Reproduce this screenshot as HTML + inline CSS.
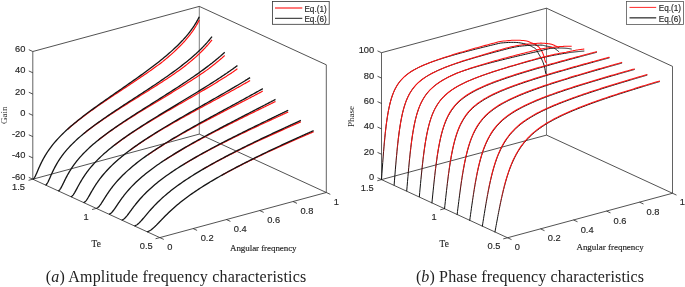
<!DOCTYPE html>
<html><head><meta charset="utf-8"><style>html,body{margin:0;padding:0;background:#fff;width:685px;height:287px;overflow:hidden}svg{display:block}</style></head><body>
<svg width="685" height="287" viewBox="0 0 685 287">
<line x1="199.30" y1="134.10" x2="199.30" y2="6.40" stroke="#707070" stroke-width="0.9"/>
<line x1="326.30" y1="192.50" x2="326.30" y2="64.80" stroke="#505050" stroke-width="0.9"/>
<line x1="32.80" y1="179.20" x2="32.80" y2="51.50" stroke="#505050" stroke-width="0.9"/>
<line x1="32.80" y1="51.50" x2="199.30" y2="6.40" stroke="#262626" stroke-width="0.8"/>
<line x1="199.30" y1="6.40" x2="326.30" y2="64.80" stroke="#262626" stroke-width="0.8"/>
<line x1="32.80" y1="179.20" x2="199.30" y2="134.10" stroke="#262626" stroke-width="0.8"/>
<line x1="199.30" y1="134.10" x2="326.30" y2="192.50" stroke="#262626" stroke-width="0.8"/>
<line x1="32.80" y1="179.20" x2="159.80" y2="237.60" stroke="#262626" stroke-width="0.8"/>
<line x1="159.80" y1="237.60" x2="326.30" y2="192.50" stroke="#262626" stroke-width="0.8"/>
<line x1="32.80" y1="179.20" x2="28.80" y2="177.36" stroke="#262626" stroke-width="0.8"/>
<line x1="32.80" y1="157.92" x2="28.80" y2="156.08" stroke="#262626" stroke-width="0.8"/>
<line x1="32.80" y1="136.63" x2="28.80" y2="134.79" stroke="#262626" stroke-width="0.8"/>
<line x1="32.80" y1="115.35" x2="28.80" y2="113.51" stroke="#262626" stroke-width="0.8"/>
<line x1="32.80" y1="94.06" x2="28.80" y2="92.23" stroke="#262626" stroke-width="0.8"/>
<line x1="32.80" y1="72.78" x2="28.80" y2="70.94" stroke="#262626" stroke-width="0.8"/>
<line x1="32.80" y1="51.50" x2="28.80" y2="49.66" stroke="#262626" stroke-width="0.8"/>
<line x1="159.80" y1="237.60" x2="155.55" y2="238.75" stroke="#262626" stroke-width="0.8"/>
<line x1="96.30" y1="208.40" x2="92.05" y2="209.55" stroke="#262626" stroke-width="0.8"/>
<line x1="32.80" y1="179.20" x2="28.55" y2="180.35" stroke="#262626" stroke-width="0.8"/>
<line x1="159.80" y1="237.60" x2="163.80" y2="239.44" stroke="#262626" stroke-width="0.8"/>
<line x1="193.10" y1="228.58" x2="197.10" y2="230.42" stroke="#262626" stroke-width="0.8"/>
<line x1="226.40" y1="219.56" x2="230.40" y2="221.40" stroke="#262626" stroke-width="0.8"/>
<line x1="259.70" y1="210.54" x2="263.70" y2="212.38" stroke="#262626" stroke-width="0.8"/>
<line x1="293.00" y1="201.52" x2="297.00" y2="203.36" stroke="#262626" stroke-width="0.8"/>
<line x1="326.30" y1="192.50" x2="330.30" y2="194.34" stroke="#262626" stroke-width="0.8"/>
<path d="M67.77 129.22 L69.43 127.75 L71.09 126.31 L72.76 124.90 L74.42 123.52 L76.09 122.17 L77.75 120.83 L79.42 119.52 L81.09 118.23 L82.75 116.96 L84.41 115.71 L86.08 114.47 L87.75 113.24 L89.41 112.03 L91.07 110.83 L92.74 109.64 L94.41 108.46 L96.07 107.29 L97.73 106.13 L99.40 104.98 L101.06 103.83 L102.73 102.69 L104.40 101.56 L106.06 100.43 L107.73 99.31 L109.39 98.19 L111.05 97.08 L112.72 95.97 L114.38 94.86 L116.05 93.75 L117.72 92.65 L119.38 91.54 L121.05 90.44 L122.71 89.34 L124.38 88.24 L126.04 87.14 L127.71 86.03 L129.37 84.93 L131.03 83.82 L132.70 82.71 L134.37 81.60 L136.03 80.49 L137.69 79.37 L139.36 78.24 L141.03 77.11 L142.69 75.98 L144.36 74.84 L146.02 73.69 L147.69 72.53 L149.35 71.37 L151.01 70.20 L152.68 69.01 L154.34 67.82 L156.01 66.61 L157.68 65.39 L159.34 64.16 L161.00 62.91 L162.67 61.62 L164.33 60.26 L166.00 58.88 L167.66 57.47 L169.33 56.05 L171.00 54.59 L172.66 53.10 L174.32 51.58 L175.99 50.02 L177.65 48.43 L179.32 46.79 L180.99 45.09 L182.65 43.34 L183.07 42.90 L183.48 42.45 L183.90 41.99 L184.31 41.53 L184.73 41.07 L185.15 40.60 L185.56 40.12 L185.98 39.65 L186.40 39.16 L186.81 38.67 L187.23 38.18 L187.64 37.68 L188.06 37.17 L188.48 36.66 L188.89 36.14 L189.31 35.62 L189.73 35.08 L190.14 34.54 L190.56 34.00 L190.97 33.44 L191.39 32.88 L191.81 32.31 L192.22 31.73 L192.64 31.14 L193.06 30.54 L193.47 29.92 L193.89 29.30 L194.31 28.67 L194.72 28.03 L195.14 27.37 L195.55 26.70 L195.97 26.01 L196.39 25.32 L196.80 24.60 L197.22 23.87 L197.63 23.12 L198.05 22.35 L198.47 21.56 L198.88 20.75 L199.30 19.91" fill="none" stroke="#ff1010" stroke-width="1.2"/>
<path d="M32.80 179.20 L33.22 179.01 L33.63 178.68 L34.05 178.20 L34.46 177.61 L34.88 176.90 L35.30 176.11 L35.71 175.26 L36.13 174.35 L36.55 173.41 L36.96 172.45 L37.38 171.47 L37.79 170.50 L38.21 169.53 L38.63 168.56 L39.04 167.61 L39.46 166.68 L39.88 165.76 L40.29 164.86 L40.71 163.97 L41.12 163.11 L41.54 162.26 L41.96 161.44 L42.37 160.63 L42.79 159.83 L43.21 159.06 L43.62 158.30 L44.04 157.56 L44.45 156.83 L44.87 156.12 L45.29 155.42 L45.70 154.73 L46.12 154.06 L46.54 153.40 L46.95 152.75 L47.37 152.12 L47.78 151.49 L48.20 150.88 L48.62 150.27 L49.03 149.68 L49.45 149.09 L51.11 146.84 L52.78 144.71 L54.44 142.69 L56.11 140.76 L57.78 138.91 L59.44 137.13 L61.11 135.42 L62.77 133.76 L64.44 132.15 L66.10 130.58 L67.77 129.05 L69.43 127.56 L71.09 126.11 L72.76 124.68 L74.42 123.28 L76.09 121.90 L77.75 120.55 L79.42 119.22 L81.09 117.90 L82.75 116.60 L84.41 115.32 L86.08 114.05 L87.75 112.80 L89.41 111.56 L91.07 110.33 L92.74 109.11 L94.41 107.89 L96.07 106.69 L97.73 105.49 L99.40 104.30 L101.06 103.12 L102.73 101.94 L104.40 100.77 L106.06 99.60 L107.73 98.44 L109.39 97.28 L111.05 96.12 L112.72 94.96 L114.38 93.81 L116.05 92.65 L117.72 91.50 L119.38 90.35 L121.05 89.19 L122.71 88.04 L124.38 86.88 L126.04 85.73 L127.71 84.57 L129.37 83.40 L131.03 82.24 L132.70 81.07 L134.37 79.90 L136.03 78.72 L137.69 77.54 L139.36 76.35 L141.03 75.15 L142.69 73.95 L144.36 72.74 L146.02 71.52 L147.69 70.30 L149.35 69.06 L151.01 67.81 L152.68 66.56 L154.34 65.28 L156.01 64.00 L157.68 62.70 L159.34 61.39 L161.00 60.06 L162.67 58.71 L164.33 57.34 L166.00 55.95 L167.66 54.53 L169.33 53.09 L171.00 51.62 L172.66 50.13 L174.32 48.59 L175.99 47.03 L177.65 45.42 L179.32 43.76 L180.99 42.06 L182.65 40.30 L183.07 39.85 L183.48 39.39 L183.90 38.93 L184.31 38.47 L184.73 38.00 L185.15 37.53 L185.56 37.05 L185.98 36.57 L186.40 36.08 L186.81 35.59 L187.23 35.09 L187.64 34.59 L188.06 34.08 L188.48 33.56 L188.89 33.04 L189.31 32.51 L189.73 31.98 L190.14 31.43 L190.56 30.88 L190.97 30.32 L191.39 29.76 L191.81 29.18 L192.22 28.60 L192.64 28.00 L193.06 27.40 L193.47 26.79 L193.89 26.16 L194.31 25.53 L194.72 24.88 L195.14 24.22 L195.55 23.54 L195.97 22.85 L196.39 22.15 L196.80 21.43 L197.22 20.69 L197.63 19.94 L198.05 19.17 L198.47 18.38 L198.88 17.56 L199.30 16.72" fill="none" stroke="#151515" stroke-width="1.3"/>
<path d="M83.80 133.73 L85.46 132.38 L87.13 131.07 L88.79 129.78 L90.46 128.51 L92.12 127.26 L93.79 126.04 L95.45 124.83 L97.12 123.64 L98.78 122.46 L100.45 121.29 L102.11 120.14 L103.78 119.01 L105.44 117.88 L107.11 116.76 L108.77 115.65 L110.44 114.55 L112.10 113.46 L113.77 112.38 L115.43 111.30 L117.10 110.23 L118.76 109.17 L120.43 108.11 L122.09 107.05 L123.76 106.00 L125.42 104.95 L127.09 103.90 L128.75 102.86 L130.42 101.82 L132.08 100.78 L133.75 99.74 L135.41 98.70 L137.08 97.67 L138.74 96.63 L140.41 95.60 L142.07 94.56 L143.74 93.52 L145.40 92.48 L147.07 91.44 L148.73 90.39 L150.40 89.35 L152.06 88.30 L153.73 87.25 L155.39 86.19 L157.06 85.13 L158.72 84.06 L160.39 82.99 L162.05 81.91 L163.72 80.82 L165.38 79.73 L167.05 78.63 L168.71 77.52 L170.38 76.40 L172.04 75.28 L173.71 74.14 L175.37 72.99 L177.03 71.82 L178.70 70.65 L180.36 69.46 L182.03 68.25 L183.70 67.02 L185.36 65.73 L187.03 64.39 L188.69 63.03 L190.35 61.65 L192.02 60.24 L193.69 58.80 L195.35 57.33 L195.77 56.96 L196.18 56.58 L196.60 56.20 L197.02 55.82 L197.43 55.44 L197.85 55.05 L198.26 54.67 L198.68 54.28 L199.10 53.88 L199.51 53.49 L199.93 53.09 L200.34 52.68 L200.76 52.28 L201.18 51.87 L201.59 51.46 L202.01 51.05 L202.43 50.63 L202.84 50.21 L203.26 49.78 L203.67 49.35 L204.09 48.92 L204.51 48.48 L204.92 48.04 L205.34 47.60 L205.76 47.15 L206.17 46.69 L206.59 46.24 L207.01 45.77 L207.42 45.30 L207.84 44.83 L208.25 44.35 L208.67 43.87 L209.09 43.38 L209.50 42.89 L209.92 42.38 L210.34 41.88 L210.75 41.36 L211.17 40.84 L211.58 40.31 L212.00 39.78" fill="none" stroke="#ff1010" stroke-width="1.2"/>
<path d="M45.50 185.04 L45.92 184.85 L46.33 184.52 L46.75 184.05 L47.17 183.46 L47.58 182.77 L48.00 181.99 L48.41 181.15 L48.83 180.26 L49.25 179.34 L49.66 178.40 L50.08 177.44 L50.50 176.49 L50.91 175.54 L51.33 174.60 L51.74 173.67 L52.16 172.75 L52.58 171.86 L52.99 170.98 L53.41 170.11 L53.83 169.27 L54.24 168.44 L54.66 167.64 L55.07 166.85 L55.49 166.08 L55.91 165.32 L56.32 164.58 L56.74 163.86 L57.16 163.15 L57.57 162.46 L57.99 161.78 L58.40 161.11 L58.82 160.46 L59.24 159.82 L59.65 159.19 L60.07 158.57 L60.49 157.96 L60.90 157.37 L61.32 156.78 L61.73 156.21 L62.15 155.64 L63.82 153.46 L65.48 151.40 L67.15 149.45 L68.81 147.59 L70.48 145.81 L72.14 144.10 L73.81 142.46 L75.47 140.86 L77.14 139.32 L78.80 137.82 L80.47 136.37 L82.13 134.94 L83.80 133.55 L85.46 132.19 L87.13 130.86 L88.79 129.55 L90.46 128.26 L92.12 127.00 L93.79 125.75 L95.45 124.52 L97.12 123.30 L98.78 122.10 L100.45 120.91 L102.11 119.73 L103.78 118.57 L105.44 117.41 L107.11 116.27 L108.77 115.13 L110.44 114.00 L112.10 112.88 L113.77 111.76 L115.43 110.65 L117.10 109.55 L118.76 108.44 L120.43 107.35 L122.09 106.25 L123.76 105.16 L125.42 104.07 L127.09 102.99 L128.75 101.90 L130.42 100.82 L132.08 99.74 L133.75 98.65 L135.41 97.57 L137.08 96.49 L138.74 95.40 L140.41 94.32 L142.07 93.23 L143.74 92.14 L145.40 91.05 L147.07 89.95 L148.73 88.86 L150.40 87.75 L152.06 86.65 L153.73 85.54 L155.39 84.42 L157.06 83.30 L158.72 82.17 L160.39 81.03 L162.05 79.89 L163.72 78.74 L165.38 77.58 L167.05 76.42 L168.71 75.24 L170.38 74.05 L172.04 72.85 L173.71 71.64 L175.37 70.42 L177.03 69.18 L178.70 67.93 L180.36 66.66 L182.03 65.38 L183.70 64.07 L185.36 62.75 L187.03 61.40 L188.69 60.04 L190.35 58.64 L192.02 57.22 L193.69 55.77 L195.35 54.28 L195.77 53.91 L196.18 53.53 L196.60 53.15 L197.02 52.76 L197.43 52.38 L197.85 51.99 L198.26 51.60 L198.68 51.20 L199.10 50.80 L199.51 50.40 L199.93 50.00 L200.34 49.60 L200.76 49.19 L201.18 48.78 L201.59 48.36 L202.01 47.94 L202.43 47.52 L202.84 47.10 L203.26 46.67 L203.67 46.23 L204.09 45.80 L204.51 45.36 L204.92 44.91 L205.34 44.46 L205.76 44.01 L206.17 43.55 L206.59 43.09 L207.01 42.63 L207.42 42.15 L207.84 41.68 L208.25 41.20 L208.67 40.71 L209.09 40.21 L209.50 39.72 L209.92 39.21 L210.34 38.70 L210.75 38.18 L211.17 37.66 L211.58 37.13 L212.00 36.59" fill="none" stroke="#151515" stroke-width="1.3"/>
<path d="M98.16 140.35 L99.82 139.03 L101.49 137.74 L103.15 136.47 L104.82 135.22 L106.48 134.00 L108.15 132.79 L109.81 131.60 L111.48 130.42 L113.14 129.26 L114.81 128.11 L116.47 126.98 L118.14 125.86 L119.80 124.75 L121.47 123.65 L123.13 122.56 L124.80 121.47 L126.46 120.40 L128.13 119.33 L129.80 118.27 L131.46 117.22 L133.12 116.18 L134.79 115.13 L136.45 114.10 L138.12 113.07 L139.78 112.04 L141.45 111.02 L143.12 110.00 L144.78 108.98 L146.44 107.97 L148.11 106.96 L149.78 105.95 L151.44 104.94 L153.11 103.94 L154.77 102.93 L156.44 101.93 L158.10 100.92 L159.77 99.92 L161.43 98.92 L163.09 97.91 L164.76 96.91 L166.43 95.90 L168.09 94.89 L169.76 93.88 L171.42 92.87 L173.09 91.86 L174.75 90.84 L176.41 89.82 L178.08 88.80 L179.75 87.77 L181.41 86.74 L183.08 85.70 L184.74 84.66 L186.41 83.61 L188.07 82.56 L189.73 81.50 L191.40 80.43 L193.06 79.35 L194.73 78.27 L196.40 77.17 L198.06 76.07 L199.72 74.96 L201.39 73.83 L203.05 72.69 L204.72 71.54 L206.39 70.38 L208.05 69.17 L208.47 68.86 L208.88 68.54 L209.30 68.23 L209.72 67.91 L210.13 67.59 L210.55 67.27 L210.96 66.95 L211.38 66.63 L211.80 66.31 L212.21 65.98 L212.63 65.65 L213.04 65.33 L213.46 65.00 L213.88 64.67 L214.29 64.34 L214.71 64.00 L215.13 63.67 L215.54 63.33 L215.96 63.00 L216.37 62.66 L216.79 62.32 L217.21 61.97 L217.62 61.63 L218.04 61.28 L218.46 60.94 L218.87 60.59 L219.29 60.24 L219.71 59.88 L220.12 59.53 L220.54 59.17 L220.95 58.81 L221.37 58.45 L221.79 58.09 L222.20 57.72 L222.62 57.35 L223.03 56.98 L223.45 56.61 L223.87 56.24 L224.28 55.86 L224.70 55.48" fill="none" stroke="#ff1010" stroke-width="1.2"/>
<path d="M58.20 190.88 L58.62 190.71 L59.03 190.43 L59.45 190.04 L59.86 189.55 L60.28 188.98 L60.70 188.33 L61.11 187.62 L61.53 186.86 L61.95 186.06 L62.36 185.24 L62.78 184.40 L63.19 183.55 L63.61 182.69 L64.03 181.84 L64.44 180.98 L64.86 180.14 L65.28 179.30 L65.69 178.48 L66.11 177.67 L66.52 176.87 L66.94 176.08 L67.36 175.31 L67.77 174.56 L68.19 173.81 L68.61 173.08 L69.02 172.37 L69.44 171.67 L69.85 170.98 L70.27 170.30 L70.69 169.64 L71.10 168.99 L71.52 168.34 L71.94 167.72 L72.35 167.10 L72.77 166.49 L73.18 165.89 L73.60 165.30 L74.02 164.72 L74.43 164.15 L74.85 163.59 L76.51 161.43 L78.18 159.38 L79.84 157.44 L81.51 155.58 L83.17 153.81 L84.84 152.10 L86.50 150.45 L88.17 148.86 L89.83 147.32 L91.50 145.82 L93.16 144.36 L94.83 142.93 L96.49 141.54 L98.16 140.18 L99.82 138.85 L101.49 137.54 L103.15 136.26 L104.82 134.99 L106.48 133.75 L108.15 132.52 L109.81 131.31 L111.48 130.11 L113.14 128.93 L114.81 127.76 L116.47 126.61 L118.14 125.46 L119.80 124.32 L121.47 123.20 L123.13 122.08 L124.80 120.97 L126.46 119.87 L128.13 118.77 L129.80 117.68 L131.46 116.60 L133.12 115.52 L134.79 114.45 L136.45 113.38 L138.12 112.31 L139.78 111.25 L141.45 110.19 L143.12 109.14 L144.78 108.08 L146.44 107.03 L148.11 105.98 L149.78 104.93 L151.44 103.88 L153.11 102.83 L154.77 101.78 L156.44 100.73 L158.10 99.69 L159.77 98.64 L161.43 97.58 L163.09 96.53 L164.76 95.48 L166.43 94.42 L168.09 93.36 L169.76 92.30 L171.42 91.24 L173.09 90.17 L174.75 89.09 L176.41 88.02 L178.08 86.94 L179.75 85.85 L181.41 84.76 L183.08 83.66 L184.74 82.56 L186.41 81.45 L188.07 80.33 L189.73 79.21 L191.40 78.07 L193.06 76.93 L194.73 75.78 L196.40 74.61 L198.06 73.44 L199.72 72.26 L201.39 71.06 L203.05 69.85 L204.72 68.62 L206.39 67.38 L208.05 66.12 L208.47 65.81 L208.88 65.49 L209.30 65.17 L209.72 64.85 L210.13 64.53 L210.55 64.20 L210.96 63.88 L211.38 63.55 L211.80 63.23 L212.21 62.90 L212.63 62.57 L213.04 62.24 L213.46 61.91 L213.88 61.57 L214.29 61.24 L214.71 60.90 L215.13 60.56 L215.54 60.22 L215.96 59.88 L216.37 59.54 L216.79 59.20 L217.21 58.85 L217.62 58.50 L218.04 58.15 L218.46 57.80 L218.87 57.45 L219.29 57.09 L219.71 56.74 L220.12 56.38 L220.54 56.02 L220.95 55.65 L221.37 55.29 L221.79 54.92 L222.20 54.55 L222.62 54.18 L223.03 53.81 L223.45 53.43 L223.87 53.05 L224.28 52.67 L224.70 52.29" fill="none" stroke="#151515" stroke-width="1.3"/>
<path d="M114.19 145.48 L115.86 144.21 L117.52 142.96 L119.19 141.73 L120.85 140.53 L122.52 139.34 L124.18 138.16 L125.85 137.00 L127.51 135.86 L129.18 134.73 L130.84 133.61 L132.50 132.51 L134.17 131.42 L135.84 130.33 L137.50 129.26 L139.17 128.20 L140.83 127.14 L142.50 126.09 L144.16 125.06 L145.83 124.02 L147.49 123.00 L149.16 121.98 L150.82 120.97 L152.49 119.96 L154.15 118.96 L155.81 117.96 L157.48 116.97 L159.15 115.98 L160.81 114.99 L162.48 114.01 L164.14 113.03 L165.81 112.06 L167.47 111.09 L169.13 110.12 L170.80 109.15 L172.47 108.18 L174.13 107.22 L175.80 106.26 L177.46 105.29 L179.12 104.33 L180.79 103.37 L182.46 102.41 L184.12 101.45 L185.79 100.49 L187.45 99.53 L189.12 98.57 L190.78 97.61 L192.44 96.65 L194.11 95.69 L195.78 94.72 L197.44 93.75 L199.11 92.78 L200.77 91.81 L202.44 90.83 L204.10 89.86 L205.76 88.87 L207.43 87.89 L209.10 86.90 L210.76 85.90 L212.43 84.90 L214.09 83.90 L215.75 82.89 L217.42 81.87 L219.09 80.85 L220.75 79.81 L221.17 79.55 L221.58 79.30 L222.00 79.04 L222.42 78.77 L222.83 78.51 L223.25 78.25 L223.66 77.99 L224.08 77.73 L224.50 77.46 L224.91 77.20 L225.33 76.93 L225.75 76.67 L226.16 76.40 L226.58 76.14 L226.99 75.87 L227.41 75.60 L227.83 75.33 L228.24 75.07 L228.66 74.80 L229.07 74.53 L229.49 74.25 L229.91 73.98 L230.32 73.71 L230.74 73.44 L231.16 73.16 L231.57 72.89 L231.99 72.61 L232.41 72.34 L232.82 72.05 L233.24 71.76 L233.65 71.46 L234.07 71.17 L234.49 70.87 L234.90 70.58 L235.32 70.28 L235.74 69.98 L236.15 69.68 L236.57 69.38 L236.98 69.08 L237.40 68.78" fill="none" stroke="#ff1010" stroke-width="1.2"/>
<path d="M70.90 196.72 L71.32 196.56 L71.73 196.32 L72.15 195.99 L72.56 195.58 L72.98 195.10 L73.40 194.55 L73.81 193.95 L74.23 193.30 L74.65 192.62 L75.06 191.90 L75.48 191.16 L75.90 190.40 L76.31 189.64 L76.73 188.86 L77.14 188.09 L77.56 187.31 L77.98 186.54 L78.39 185.77 L78.81 185.01 L79.23 184.26 L79.64 183.51 L80.06 182.78 L80.47 182.06 L80.89 181.35 L81.31 180.65 L81.72 179.96 L82.14 179.28 L82.56 178.61 L82.97 177.95 L83.39 177.30 L83.80 176.67 L84.22 176.04 L84.64 175.42 L85.05 174.81 L85.47 174.22 L85.89 173.63 L86.30 173.05 L86.72 172.48 L87.13 171.91 L87.55 171.36 L89.22 169.21 L90.88 167.18 L92.55 165.24 L94.21 163.38 L95.88 161.61 L97.54 159.90 L99.21 158.25 L100.87 156.65 L102.54 155.11 L104.20 153.60 L105.87 152.14 L107.53 150.71 L109.20 149.32 L110.86 147.96 L112.53 146.62 L114.19 145.32 L115.86 144.03 L117.52 142.77 L119.19 141.52 L120.85 140.30 L122.52 139.09 L124.18 137.90 L125.85 136.72 L127.51 135.56 L129.18 134.41 L130.84 133.27 L132.50 132.15 L134.17 131.03 L135.84 129.93 L137.50 128.83 L139.17 127.74 L140.83 126.66 L142.50 125.59 L144.16 124.52 L145.83 123.47 L147.49 122.41 L149.16 121.36 L150.82 120.32 L152.49 119.28 L154.15 118.25 L155.81 117.22 L157.48 116.20 L159.15 115.17 L160.81 114.16 L162.48 113.14 L164.14 112.13 L165.81 111.11 L167.47 110.10 L169.13 109.10 L170.80 108.09 L172.47 107.08 L174.13 106.08 L175.80 105.07 L177.46 104.07 L179.12 103.06 L180.79 102.06 L182.46 101.06 L184.12 100.05 L185.79 99.04 L187.45 98.04 L189.12 97.03 L190.78 96.01 L192.44 95.00 L194.11 93.99 L195.78 92.97 L197.44 91.95 L199.11 90.92 L200.77 89.90 L202.44 88.86 L204.10 87.83 L205.76 86.79 L207.43 85.74 L209.10 84.69 L210.76 83.64 L212.43 82.58 L214.09 81.51 L215.75 80.44 L217.42 79.35 L219.09 78.26 L220.75 77.17 L221.17 76.89 L221.58 76.61 L222.00 76.34 L222.42 76.06 L222.83 75.78 L223.25 75.50 L223.66 75.22 L224.08 74.94 L224.50 74.66 L224.91 74.38 L225.33 74.10 L225.75 73.82 L226.16 73.53 L226.58 73.25 L226.99 72.96 L227.41 72.68 L227.83 72.39 L228.24 72.11 L228.66 71.82 L229.07 71.53 L229.49 71.24 L229.91 70.95 L230.32 70.66 L230.74 70.37 L231.16 70.08 L231.57 69.78 L231.99 69.49 L232.41 69.20 L232.82 68.90 L233.24 68.60 L233.65 68.31 L234.07 68.01 L234.49 67.71 L234.90 67.41 L235.32 67.11 L235.74 66.80 L236.15 66.50 L236.57 66.19 L236.98 65.89 L237.40 65.58" fill="none" stroke="#151515" stroke-width="1.3"/>
<path d="M130.22 150.18 L131.88 148.96 L133.55 147.77 L135.21 146.59 L136.88 145.43 L138.54 144.29 L140.21 143.16 L141.87 142.05 L143.54 140.95 L145.20 139.86 L146.87 138.78 L148.53 137.72 L150.20 136.67 L151.86 135.62 L153.53 134.59 L155.19 133.56 L156.86 132.55 L158.53 131.54 L160.19 130.54 L161.85 129.55 L163.52 128.56 L165.18 127.58 L166.85 126.61 L168.51 125.64 L170.18 124.68 L171.84 123.72 L173.51 122.77 L175.17 121.82 L176.84 120.88 L178.50 119.94 L180.17 119.01 L181.83 118.08 L183.50 117.15 L185.16 116.23 L186.83 115.31 L188.49 114.39 L190.16 113.47 L191.82 112.56 L193.49 111.65 L195.16 110.74 L196.82 109.83 L198.48 108.92 L200.15 108.02 L201.81 107.12 L203.48 106.21 L205.14 105.31 L206.81 104.41 L208.47 103.51 L210.14 102.61 L211.80 101.71 L213.47 100.81 L215.13 99.91 L216.80 99.01 L218.46 98.10 L220.13 97.20 L221.79 96.30 L223.46 95.39 L225.12 94.48 L226.79 93.57 L228.45 92.66 L230.12 91.75 L231.78 90.83 L233.45 89.91 L233.87 89.68 L234.28 89.45 L234.70 89.22 L235.11 88.99 L235.53 88.76 L235.95 88.53 L236.36 88.30 L236.78 88.06 L237.20 87.83 L237.61 87.60 L238.03 87.37 L238.44 87.13 L238.86 86.90 L239.28 86.67 L239.69 86.43 L240.11 86.20 L240.53 85.97 L240.94 85.73 L241.36 85.50 L241.77 85.26 L242.19 85.03 L242.61 84.79 L243.02 84.55 L243.44 84.32 L243.86 84.08 L244.27 83.84 L244.69 83.61 L245.10 83.37 L245.52 83.13 L245.94 82.89 L246.35 82.65 L246.77 82.41 L247.19 82.17 L247.60 81.93 L248.02 81.69 L248.43 81.45 L248.85 81.21 L249.27 80.97 L249.68 80.73 L250.10 80.49" fill="none" stroke="#ff1010" stroke-width="1.2"/>
<path d="M83.60 202.56 L84.02 202.41 L84.43 202.18 L84.85 201.88 L85.26 201.51 L85.68 201.08 L86.10 200.58 L86.51 200.04 L86.93 199.45 L87.35 198.82 L87.76 198.17 L88.18 197.49 L88.59 196.78 L89.01 196.07 L89.43 195.35 L89.84 194.62 L90.26 193.88 L90.68 193.15 L91.09 192.42 L91.51 191.70 L91.92 190.98 L92.34 190.26 L92.76 189.56 L93.17 188.86 L93.59 188.17 L94.01 187.49 L94.42 186.82 L94.84 186.16 L95.25 185.51 L95.67 184.86 L96.09 184.23 L96.50 183.61 L96.92 182.99 L97.34 182.38 L97.75 181.79 L98.17 181.20 L98.58 180.62 L99.00 180.05 L99.42 179.48 L99.83 178.93 L100.25 178.38 L101.91 176.26 L103.58 174.24 L105.24 172.32 L106.91 170.48 L108.57 168.71 L110.24 167.01 L111.91 165.37 L113.57 163.79 L115.23 162.25 L116.90 160.76 L118.56 159.31 L120.23 157.89 L121.89 156.51 L123.56 155.16 L125.22 153.83 L126.89 152.54 L128.55 151.27 L130.22 150.02 L131.88 148.79 L133.55 147.58 L135.21 146.39 L136.88 145.21 L138.54 144.05 L140.21 142.91 L141.87 141.78 L143.54 140.66 L145.20 139.55 L146.87 138.46 L148.53 137.38 L150.20 136.30 L151.86 135.24 L153.53 134.19 L155.19 133.14 L156.86 132.10 L158.53 131.07 L160.19 130.05 L161.85 129.03 L163.52 128.02 L165.18 127.01 L166.85 126.01 L168.51 125.02 L170.18 124.03 L171.84 123.04 L173.51 122.06 L175.17 121.09 L176.84 120.11 L178.50 119.14 L180.17 118.18 L181.83 117.21 L183.50 116.25 L185.16 115.29 L186.83 114.34 L188.49 113.38 L190.16 112.43 L191.82 111.48 L193.49 110.53 L195.16 109.58 L196.82 108.64 L198.48 107.69 L200.15 106.74 L201.81 105.80 L203.48 104.85 L205.14 103.91 L206.81 102.96 L208.47 102.02 L210.14 101.07 L211.80 100.13 L213.47 99.18 L215.13 98.23 L216.80 97.28 L218.46 96.33 L220.13 95.37 L221.79 94.42 L223.46 93.46 L225.12 92.50 L226.79 91.54 L228.45 90.57 L230.12 89.60 L231.78 88.63 L233.45 87.65 L233.87 87.41 L234.28 87.16 L234.70 86.91 L235.11 86.67 L235.53 86.42 L235.95 86.18 L236.36 85.93 L236.78 85.68 L237.20 85.44 L237.61 85.19 L238.03 84.94 L238.44 84.69 L238.86 84.45 L239.28 84.20 L239.69 83.95 L240.11 83.70 L240.53 83.45 L240.94 83.20 L241.36 82.95 L241.77 82.70 L242.19 82.45 L242.61 82.20 L243.02 81.95 L243.44 81.69 L243.86 81.44 L244.27 81.19 L244.69 80.93 L245.10 80.68 L245.52 80.43 L245.94 80.17 L246.35 79.92 L246.77 79.66 L247.19 79.41 L247.60 79.15 L248.02 78.89 L248.43 78.64 L248.85 78.38 L249.27 78.12 L249.68 77.86 L250.10 77.60" fill="none" stroke="#151515" stroke-width="1.3"/>
<path d="M147.91 154.90 L149.58 153.76 L151.25 152.63 L152.91 151.52 L154.57 150.42 L156.24 149.33 L157.91 148.26 L159.57 147.20 L161.24 146.15 L162.90 145.12 L164.56 144.09 L166.23 143.07 L167.90 142.06 L169.56 141.07 L171.23 140.07 L172.89 139.09 L174.56 138.12 L176.22 137.15 L177.88 136.19 L179.55 135.23 L181.22 134.28 L182.88 133.34 L184.55 132.40 L186.21 131.47 L187.88 130.54 L189.54 129.62 L191.21 128.70 L192.87 127.79 L194.53 126.88 L196.20 125.98 L197.87 125.08 L199.53 124.18 L201.19 123.28 L202.86 122.39 L204.53 121.50 L206.19 120.62 L207.86 119.74 L209.52 118.86 L211.19 117.98 L212.85 117.10 L214.51 116.23 L216.18 115.36 L217.84 114.49 L219.51 113.62 L221.18 112.75 L222.84 111.88 L224.50 111.02 L226.17 110.15 L227.83 109.29 L229.50 108.43 L231.16 107.57 L232.83 106.71 L234.50 105.85 L236.16 104.98 L237.82 104.12 L239.49 103.26 L241.15 102.40 L242.82 101.54 L244.49 100.68 L246.15 99.81 L246.57 99.60 L246.98 99.38 L247.40 99.16 L247.81 98.95 L248.23 98.73 L248.65 98.52 L249.06 98.30 L249.48 98.08 L249.90 97.87 L250.31 97.65 L250.73 97.43 L251.14 97.22 L251.56 97.00 L251.98 96.78 L252.39 96.57 L252.81 96.35 L253.23 96.13 L253.64 95.91 L254.06 95.70 L254.47 95.48 L254.89 95.26 L255.31 95.04 L255.72 94.82 L256.14 94.61 L256.56 94.39 L256.97 94.17 L257.39 93.95 L257.81 93.73 L258.22 93.51 L258.64 93.30 L259.05 93.08 L259.47 92.86 L259.89 92.64 L260.30 92.42 L260.72 92.20 L261.13 91.98 L261.55 91.76 L261.97 91.54 L262.38 91.32 L262.80 91.10" fill="none" stroke="#ff1010" stroke-width="1.2"/>
<path d="M96.30 208.40 L96.72 208.26 L97.13 208.05 L97.55 207.79 L97.97 207.47 L98.38 207.10 L98.80 206.68 L99.21 206.22 L99.63 205.71 L100.05 205.17 L100.46 204.60 L100.88 204.01 L101.29 203.39 L101.71 202.76 L102.13 202.12 L102.54 201.47 L102.96 200.81 L103.38 200.14 L103.79 199.48 L104.21 198.82 L104.62 198.15 L105.04 197.49 L105.46 196.84 L105.87 196.19 L106.29 195.54 L106.71 194.90 L107.12 194.27 L107.54 193.64 L107.95 193.02 L108.37 192.41 L108.79 191.81 L109.20 191.21 L109.62 190.62 L110.04 190.04 L110.45 189.47 L110.87 188.90 L111.28 188.34 L111.70 187.79 L112.12 187.24 L112.53 186.71 L112.95 186.17 L114.61 184.11 L116.28 182.14 L117.94 180.26 L119.61 178.46 L121.28 176.72 L122.94 175.05 L124.61 173.44 L126.27 171.88 L127.94 170.37 L129.60 168.90 L131.26 167.47 L132.93 166.07 L134.59 164.71 L136.26 163.37 L137.93 162.07 L139.59 160.79 L141.25 159.54 L142.92 158.31 L144.59 157.10 L146.25 155.90 L147.91 154.73 L149.58 153.57 L151.25 152.43 L152.91 151.31 L154.57 150.19 L156.24 149.10 L157.91 148.01 L159.57 146.93 L161.24 145.87 L162.90 144.82 L164.56 143.77 L166.23 142.74 L167.90 141.71 L169.56 140.69 L171.23 139.68 L172.89 138.68 L174.56 137.68 L176.22 136.69 L177.88 135.71 L179.55 134.73 L181.22 133.76 L182.88 132.80 L184.55 131.83 L186.21 130.88 L187.88 129.93 L189.54 128.98 L191.21 128.03 L192.87 127.09 L194.53 126.16 L196.20 125.22 L197.87 124.29 L199.53 123.37 L201.19 122.44 L202.86 121.52 L204.53 120.60 L206.19 119.68 L207.86 118.77 L209.52 117.85 L211.19 116.94 L212.85 116.03 L214.51 115.12 L216.18 114.21 L217.84 113.30 L219.51 112.40 L221.18 111.49 L222.84 110.59 L224.50 109.68 L226.17 108.78 L227.83 107.88 L229.50 106.97 L231.16 106.07 L232.83 105.16 L234.50 104.26 L236.16 103.35 L237.82 102.45 L239.49 101.54 L241.15 100.63 L242.82 99.72 L244.49 98.81 L246.15 97.90 L246.57 97.67 L246.98 97.44 L247.40 97.21 L247.81 96.98 L248.23 96.75 L248.65 96.53 L249.06 96.30 L249.48 96.07 L249.90 95.84 L250.31 95.61 L250.73 95.38 L251.14 95.15 L251.56 94.92 L251.98 94.69 L252.39 94.46 L252.81 94.23 L253.23 94.00 L253.64 93.77 L254.06 93.54 L254.47 93.31 L254.89 93.08 L255.31 92.84 L255.72 92.61 L256.14 92.38 L256.56 92.15 L256.97 91.92 L257.39 91.69 L257.81 91.45 L258.22 91.22 L258.64 90.99 L259.05 90.76 L259.47 90.52 L259.89 90.29 L260.30 90.06 L260.72 89.82 L261.13 89.59 L261.55 89.35 L261.97 89.12 L262.38 88.88 L262.80 88.65" fill="none" stroke="#151515" stroke-width="1.3"/>
<path d="M163.94 160.69 L165.61 159.61 L167.27 158.54 L168.94 157.48 L170.61 156.44 L172.27 155.41 L173.94 154.39 L175.60 153.38 L177.26 152.38 L178.93 151.39 L180.60 150.41 L182.26 149.44 L183.93 148.47 L185.59 147.52 L187.25 146.57 L188.92 145.63 L190.58 144.69 L192.25 143.77 L193.92 142.85 L195.58 141.93 L197.25 141.02 L198.91 140.12 L200.57 139.22 L202.24 138.32 L203.91 137.43 L205.57 136.55 L207.24 135.67 L208.90 134.79 L210.56 133.92 L212.23 133.05 L213.89 132.18 L215.56 131.32 L217.23 130.46 L218.89 129.61 L220.56 128.75 L222.22 127.90 L223.88 127.06 L225.55 126.21 L227.21 125.37 L228.88 124.53 L230.55 123.69 L232.21 122.86 L233.88 122.02 L235.54 121.19 L237.20 120.36 L238.87 119.53 L240.53 118.70 L242.20 117.88 L243.86 117.05 L245.53 116.23 L247.19 115.40 L248.86 114.58 L250.52 113.76 L252.19 112.94 L253.85 112.12 L255.52 111.30 L257.19 110.48 L258.85 109.66 L259.27 109.46 L259.68 109.25 L260.10 109.05 L260.51 108.84 L260.93 108.64 L261.35 108.43 L261.76 108.23 L262.18 108.02 L262.60 107.82 L263.01 107.61 L263.43 107.41 L263.84 107.20 L264.26 107.00 L264.68 106.80 L265.09 106.59 L265.51 106.39 L265.93 106.18 L266.34 105.98 L266.76 105.77 L267.17 105.57 L267.59 105.36 L268.01 105.16 L268.42 104.95 L268.84 104.75 L269.26 104.54 L269.67 104.34 L270.09 104.13 L270.50 103.93 L270.92 103.72 L271.34 103.52 L271.75 103.31 L272.17 103.11 L272.59 102.90 L273.00 102.70 L273.42 102.49 L273.83 102.28 L274.25 102.08 L274.67 101.87 L275.08 101.67 L275.50 101.46" fill="none" stroke="#ff1010" stroke-width="1.2"/>
<path d="M109.00 214.24 L109.42 214.10 L109.83 213.91 L110.25 213.67 L110.66 213.38 L111.08 213.04 L111.50 212.66 L111.91 212.24 L112.33 211.78 L112.75 211.29 L113.16 210.78 L113.58 210.24 L114.00 209.68 L114.41 209.10 L114.83 208.51 L115.24 207.91 L115.66 207.30 L116.08 206.68 L116.49 206.07 L116.91 205.45 L117.33 204.83 L117.74 204.21 L118.16 203.59 L118.57 202.97 L118.99 202.36 L119.41 201.76 L119.82 201.16 L120.24 200.56 L120.66 199.97 L121.07 199.39 L121.49 198.81 L121.90 198.24 L122.32 197.68 L122.74 197.12 L123.15 196.57 L123.57 196.02 L123.98 195.48 L124.40 194.95 L124.82 194.42 L125.23 193.90 L125.65 193.39 L127.31 191.39 L128.98 189.48 L130.64 187.65 L132.31 185.90 L133.98 184.21 L135.64 182.58 L137.31 181.01 L138.97 179.49 L140.63 178.01 L142.30 176.58 L143.97 175.18 L145.63 173.82 L147.30 172.49 L148.96 171.19 L150.62 169.92 L152.29 168.68 L153.95 167.45 L155.62 166.25 L157.29 165.07 L158.95 163.91 L160.62 162.77 L162.28 161.64 L163.94 160.53 L165.61 159.44 L167.27 158.36 L168.94 157.29 L170.61 156.23 L172.27 155.19 L173.94 154.15 L175.60 153.13 L177.26 152.12 L178.93 151.11 L180.60 150.12 L182.26 149.13 L183.93 148.15 L185.59 147.18 L187.25 146.21 L188.92 145.25 L190.58 144.30 L192.25 143.36 L193.92 142.42 L195.58 141.48 L197.25 140.55 L198.91 139.63 L200.57 138.71 L202.24 137.79 L203.91 136.88 L205.57 135.97 L207.24 135.07 L208.90 134.17 L210.56 133.27 L212.23 132.38 L213.89 131.49 L215.56 130.60 L217.23 129.71 L218.89 128.83 L220.56 127.95 L222.22 127.07 L223.88 126.19 L225.55 125.32 L227.21 124.45 L228.88 123.58 L230.55 122.71 L232.21 121.84 L233.88 120.97 L235.54 120.11 L237.20 119.25 L238.87 118.38 L240.53 117.52 L242.20 116.66 L243.86 115.80 L245.53 114.94 L247.19 114.08 L248.86 113.22 L250.52 112.36 L252.19 111.50 L253.85 110.64 L255.52 109.78 L257.19 108.92 L258.85 108.06 L259.27 107.84 L259.68 107.62 L260.10 107.41 L260.51 107.19 L260.93 106.98 L261.35 106.76 L261.76 106.55 L262.18 106.33 L262.60 106.12 L263.01 105.90 L263.43 105.69 L263.84 105.47 L264.26 105.25 L264.68 105.04 L265.09 104.82 L265.51 104.61 L265.93 104.39 L266.34 104.17 L266.76 103.96 L267.17 103.74 L267.59 103.53 L268.01 103.31 L268.42 103.09 L268.84 102.88 L269.26 102.66 L269.67 102.44 L270.09 102.23 L270.50 102.01 L270.92 101.79 L271.34 101.58 L271.75 101.36 L272.17 101.14 L272.59 100.93 L273.00 100.71 L273.42 100.49 L273.83 100.27 L274.25 100.06 L274.67 99.84 L275.08 99.62 L275.50 99.40" fill="none" stroke="#151515" stroke-width="1.3"/>
<path d="M183.31 164.74 L184.97 163.73 L186.63 162.73 L188.30 161.74 L189.96 160.76 L191.63 159.80 L193.30 158.84 L194.96 157.89 L196.62 156.94 L198.29 156.01 L199.95 155.09 L201.62 154.17 L203.28 153.26 L204.95 152.35 L206.62 151.46 L208.28 150.57 L209.94 149.68 L211.61 148.80 L213.27 147.93 L214.94 147.06 L216.61 146.20 L218.27 145.34 L219.94 144.49 L221.60 143.64 L223.26 142.79 L224.93 141.95 L226.59 141.12 L228.26 140.29 L229.93 139.46 L231.59 138.63 L233.25 137.81 L234.92 137.00 L236.58 136.18 L238.25 135.37 L239.91 134.56 L241.58 133.76 L243.25 132.95 L244.91 132.15 L246.57 131.36 L248.24 130.56 L249.90 129.77 L251.57 128.98 L253.23 128.19 L254.90 127.40 L256.56 126.62 L258.23 125.84 L259.89 125.06 L261.56 124.28 L263.22 123.50 L264.89 122.72 L266.55 121.95 L268.22 121.18 L269.88 120.41 L271.55 119.64 L271.97 119.44 L272.38 119.25 L272.80 119.06 L273.21 118.87 L273.63 118.68 L274.05 118.48 L274.46 118.29 L274.88 118.10 L275.30 117.91 L275.71 117.72 L276.13 117.52 L276.54 117.33 L276.96 117.14 L277.38 116.95 L277.79 116.76 L278.21 116.57 L278.63 116.38 L279.04 116.18 L279.46 115.99 L279.87 115.80 L280.29 115.61 L280.71 115.42 L281.12 115.23 L281.54 115.04 L281.96 114.85 L282.37 114.66 L282.79 114.47 L283.20 114.28 L283.62 114.08 L284.04 113.89 L284.45 113.70 L284.87 113.51 L285.29 113.32 L285.70 113.13 L286.12 112.94 L286.53 112.75 L286.95 112.56 L287.37 112.37 L287.78 112.18 L288.20 111.99" fill="none" stroke="#ff1010" stroke-width="1.2"/>
<path d="M121.70 220.08 L122.12 219.95 L122.53 219.77 L122.95 219.56 L123.36 219.30 L123.78 219.01 L124.20 218.68 L124.61 218.31 L125.03 217.92 L125.45 217.49 L125.86 217.05 L126.28 216.57 L126.69 216.08 L127.11 215.58 L127.53 215.05 L127.94 214.52 L128.36 213.98 L128.78 213.42 L129.19 212.87 L129.61 212.31 L130.02 211.74 L130.44 211.17 L130.86 210.61 L131.27 210.04 L131.69 209.48 L132.11 208.91 L132.52 208.35 L132.94 207.80 L133.35 207.24 L133.77 206.69 L134.19 206.15 L134.60 205.61 L135.02 205.07 L135.44 204.54 L135.85 204.02 L136.27 203.50 L136.69 202.98 L137.10 202.47 L137.52 201.97 L137.93 201.47 L138.35 200.97 L140.01 199.04 L141.68 197.19 L143.34 195.41 L145.01 193.70 L146.68 192.05 L148.34 190.45 L150.00 188.91 L151.67 187.42 L153.33 185.97 L155.00 184.56 L156.66 183.19 L158.33 181.85 L160.00 180.54 L161.66 179.26 L163.32 178.01 L164.99 176.79 L166.65 175.59 L168.32 174.41 L169.99 173.25 L171.65 172.11 L173.31 170.99 L174.98 169.88 L176.64 168.79 L178.31 167.72 L179.97 166.66 L181.64 165.61 L183.31 164.58 L184.97 163.56 L186.63 162.54 L188.30 161.54 L189.96 160.55 L191.63 159.57 L193.30 158.60 L194.96 157.64 L196.62 156.68 L198.29 155.74 L199.95 154.80 L201.62 153.86 L203.28 152.94 L204.95 152.02 L206.62 151.11 L208.28 150.20 L209.94 149.30 L211.61 148.40 L213.27 147.51 L214.94 146.63 L216.61 145.75 L218.27 144.87 L219.94 144.00 L221.60 143.13 L223.26 142.26 L224.93 141.40 L226.59 140.55 L228.26 139.69 L229.93 138.84 L231.59 138.00 L233.25 137.15 L234.92 136.31 L236.58 135.47 L238.25 134.64 L239.91 133.80 L241.58 132.97 L243.25 132.14 L244.91 131.32 L246.57 130.49 L248.24 129.67 L249.90 128.85 L251.57 128.03 L253.23 127.21 L254.90 126.40 L256.56 125.58 L258.23 124.77 L259.89 123.96 L261.56 123.15 L263.22 122.34 L264.89 121.53 L266.55 120.72 L268.22 119.91 L269.88 119.11 L271.55 118.30 L271.97 118.10 L272.38 117.90 L272.80 117.70 L273.21 117.50 L273.63 117.30 L274.05 117.10 L274.46 116.90 L274.88 116.69 L275.30 116.49 L275.71 116.29 L276.13 116.09 L276.54 115.89 L276.96 115.69 L277.38 115.49 L277.79 115.29 L278.21 115.09 L278.63 114.89 L279.04 114.69 L279.46 114.49 L279.87 114.28 L280.29 114.08 L280.71 113.88 L281.12 113.68 L281.54 113.48 L281.96 113.28 L282.37 113.08 L282.79 112.88 L283.20 112.68 L283.62 112.48 L284.04 112.28 L284.45 112.08 L284.87 111.88 L285.29 111.68 L285.70 111.48 L286.12 111.27 L286.53 111.07 L286.95 110.87 L287.37 110.67 L287.78 110.47 L288.20 110.27" fill="none" stroke="#151515" stroke-width="1.3"/>
<path d="M202.67 169.54 L204.33 168.57 L206.00 167.62 L207.66 166.67 L209.33 165.73 L210.99 164.80 L212.66 163.88 L214.32 162.96 L215.99 162.06 L217.65 161.16 L219.31 160.27 L220.98 159.38 L222.65 158.51 L224.31 157.63 L225.98 156.77 L227.64 155.91 L229.31 155.05 L230.97 154.20 L232.63 153.36 L234.30 152.52 L235.97 151.69 L237.63 150.86 L239.30 150.04 L240.96 149.22 L242.62 148.40 L244.29 147.59 L245.96 146.78 L247.62 145.98 L249.29 145.18 L250.95 144.39 L252.62 143.59 L254.28 142.81 L255.94 142.02 L257.61 141.24 L259.28 140.46 L260.94 139.69 L262.61 138.91 L264.27 138.14 L265.94 137.38 L267.60 136.61 L269.26 135.85 L270.93 135.09 L272.60 134.34 L274.26 133.59 L275.93 132.83 L277.59 132.09 L279.25 131.34 L280.92 130.60 L282.59 129.85 L284.25 129.11 L284.67 128.93 L285.08 128.75 L285.50 128.56 L285.92 128.38 L286.33 128.19 L286.75 128.01 L287.16 127.82 L287.58 127.64 L288.00 127.46 L288.41 127.27 L288.83 127.09 L289.25 126.91 L289.66 126.72 L290.08 126.54 L290.49 126.36 L290.91 126.18 L291.33 125.99 L291.74 125.81 L292.16 125.63 L292.57 125.45 L292.99 125.26 L293.41 125.08 L293.82 124.90 L294.24 124.72 L294.66 124.53 L295.07 124.35 L295.49 124.17 L295.91 123.99 L296.32 123.81 L296.74 123.63 L297.15 123.45 L297.57 123.26 L297.99 123.08 L298.40 122.90 L298.82 122.72 L299.24 122.54 L299.65 122.36 L300.07 122.18 L300.48 122.00 L300.90 121.82" fill="none" stroke="#ff1010" stroke-width="1.2"/>
<path d="M134.40 225.92 L134.82 225.79 L135.23 225.64 L135.65 225.45 L136.06 225.24 L136.48 225.00 L136.90 224.73 L137.31 224.44 L137.73 224.12 L138.15 223.79 L138.56 223.43 L138.98 223.05 L139.40 222.65 L139.81 222.24 L140.23 221.81 L140.64 221.37 L141.06 220.92 L141.48 220.46 L141.89 219.99 L142.31 219.51 L142.73 219.03 L143.14 218.54 L143.56 218.05 L143.97 217.56 L144.39 217.06 L144.81 216.57 L145.22 216.07 L145.64 215.57 L146.06 215.08 L146.47 214.58 L146.89 214.08 L147.30 213.59 L147.72 213.10 L148.14 212.61 L148.55 212.13 L148.97 211.64 L149.38 211.16 L149.80 210.69 L150.22 210.21 L150.63 209.74 L151.05 209.28 L152.72 207.45 L154.38 205.67 L156.05 203.95 L157.71 202.29 L159.38 200.68 L161.04 199.12 L162.71 197.60 L164.37 196.13 L166.04 194.70 L167.70 193.30 L169.37 191.94 L171.03 190.61 L172.69 189.31 L174.36 188.04 L176.03 186.79 L177.69 185.57 L179.36 184.37 L181.02 183.19 L182.69 182.04 L184.35 180.90 L186.01 179.78 L187.68 178.68 L189.35 177.59 L191.01 176.52 L192.68 175.46 L194.34 174.41 L196.00 173.38 L197.67 172.36 L199.34 171.36 L201.00 170.36 L202.67 169.37 L204.33 168.40 L206.00 167.43 L207.66 166.47 L209.33 165.52 L210.99 164.58 L212.66 163.65 L214.32 162.72 L215.99 161.80 L217.65 160.89 L219.31 159.99 L220.98 159.09 L222.65 158.20 L224.31 157.31 L225.98 156.43 L227.64 155.56 L229.31 154.69 L230.97 153.82 L232.63 152.97 L234.30 152.11 L235.97 151.26 L237.63 150.42 L239.30 149.57 L240.96 148.74 L242.62 147.90 L244.29 147.07 L245.96 146.25 L247.62 145.42 L249.29 144.61 L250.95 143.79 L252.62 142.98 L254.28 142.17 L255.94 141.36 L257.61 140.56 L259.28 139.76 L260.94 138.96 L262.61 138.16 L264.27 137.37 L265.94 136.58 L267.60 135.79 L269.26 135.00 L270.93 134.22 L272.60 133.44 L274.26 132.66 L275.93 131.88 L277.59 131.10 L279.25 130.33 L280.92 129.56 L282.59 128.79 L284.25 128.02 L284.67 127.83 L285.08 127.63 L285.50 127.44 L285.92 127.25 L286.33 127.06 L286.75 126.87 L287.16 126.67 L287.58 126.48 L288.00 126.29 L288.41 126.10 L288.83 125.91 L289.25 125.72 L289.66 125.53 L290.08 125.34 L290.49 125.15 L290.91 124.95 L291.33 124.76 L291.74 124.57 L292.16 124.38 L292.57 124.19 L292.99 124.00 L293.41 123.81 L293.82 123.62 L294.24 123.43 L294.66 123.24 L295.07 123.05 L295.49 122.86 L295.91 122.67 L296.32 122.48 L296.74 122.29 L297.15 122.10 L297.57 121.91 L297.99 121.72 L298.40 121.53 L298.82 121.34 L299.24 121.15 L299.65 120.96 L300.07 120.78 L300.48 120.59 L300.90 120.40" fill="none" stroke="#151515" stroke-width="1.3"/>
<path d="M222.03 175.22 L223.69 174.30 L225.35 173.39 L227.02 172.48 L228.69 171.59 L230.35 170.70 L232.01 169.81 L233.68 168.94 L235.34 168.07 L237.01 167.20 L238.68 166.35 L240.34 165.50 L242.00 164.65 L243.67 163.81 L245.33 162.97 L247.00 162.14 L248.67 161.32 L250.33 160.50 L252.00 159.68 L253.66 158.87 L255.32 158.06 L256.99 157.26 L258.66 156.46 L260.32 155.66 L261.99 154.87 L263.65 154.08 L265.31 153.30 L266.98 152.52 L268.64 151.74 L270.31 150.97 L271.98 150.20 L273.64 149.43 L275.31 148.67 L276.97 147.90 L278.63 147.15 L280.30 146.39 L281.96 145.64 L283.63 144.89 L285.30 144.14 L286.96 143.40 L288.62 142.65 L290.29 141.91 L291.95 141.18 L293.62 140.44 L295.29 139.71 L296.95 138.98 L297.37 138.79 L297.78 138.61 L298.20 138.43 L298.62 138.25 L299.03 138.07 L299.45 137.89 L299.86 137.70 L300.28 137.52 L300.70 137.34 L301.11 137.16 L301.53 136.98 L301.94 136.80 L302.36 136.62 L302.78 136.44 L303.19 136.26 L303.61 136.08 L304.03 135.90 L304.44 135.72 L304.86 135.54 L305.27 135.36 L305.69 135.18 L306.11 135.00 L306.52 134.82 L306.94 134.64 L307.36 134.46 L307.77 134.28 L308.19 134.10 L308.61 133.92 L309.02 133.74 L309.44 133.56 L309.85 133.39 L310.27 133.21 L310.69 133.03 L311.10 132.85 L311.52 132.67 L311.94 132.49 L312.35 132.32 L312.77 132.14 L313.18 131.96 L313.60 131.78" fill="none" stroke="#ff1010" stroke-width="1.2"/>
<path d="M147.10 231.76 L147.52 231.64 L147.93 231.49 L148.35 231.33 L148.76 231.15 L149.18 230.95 L149.60 230.73 L150.01 230.49 L150.43 230.23 L150.85 229.95 L151.26 229.66 L151.68 229.36 L152.09 229.04 L152.51 228.70 L152.93 228.36 L153.34 228.00 L153.76 227.63 L154.18 227.25 L154.59 226.87 L155.01 226.47 L155.43 226.07 L155.84 225.66 L156.26 225.25 L156.67 224.83 L157.09 224.41 L157.51 223.98 L157.92 223.55 L158.34 223.12 L158.75 222.69 L159.17 222.26 L159.59 221.82 L160.00 221.39 L160.42 220.95 L160.84 220.52 L161.25 220.09 L161.67 219.65 L162.08 219.22 L162.50 218.79 L162.92 218.36 L163.33 217.93 L163.75 217.51 L165.41 215.82 L167.08 214.17 L168.75 212.56 L170.41 210.99 L172.07 209.46 L173.74 207.96 L175.41 206.51 L177.07 205.09 L178.74 203.70 L180.40 202.35 L182.06 201.02 L183.73 199.73 L185.39 198.46 L187.06 197.22 L188.72 196.00 L190.39 194.80 L192.06 193.63 L193.72 192.47 L195.38 191.34 L197.05 190.22 L198.71 189.12 L200.38 188.03 L202.05 186.96 L203.71 185.90 L205.38 184.86 L207.04 183.83 L208.70 182.82 L210.37 181.81 L212.03 180.82 L213.70 179.83 L215.37 178.86 L217.03 177.89 L218.69 176.94 L220.36 175.99 L222.03 175.06 L223.69 174.13 L225.35 173.21 L227.02 172.29 L228.69 171.39 L230.35 170.49 L232.01 169.59 L233.68 168.71 L235.34 167.83 L237.01 166.95 L238.68 166.08 L240.34 165.22 L242.00 164.36 L243.67 163.51 L245.33 162.66 L247.00 161.81 L248.67 160.98 L250.33 160.14 L252.00 159.31 L253.66 158.48 L255.32 157.66 L256.99 156.84 L258.66 156.03 L260.32 155.22 L261.99 154.41 L263.65 153.60 L265.31 152.80 L266.98 152.00 L268.64 151.21 L270.31 150.42 L271.98 149.63 L273.64 148.84 L275.31 148.06 L276.97 147.28 L278.63 146.50 L280.30 145.72 L281.96 144.95 L283.63 144.18 L285.30 143.41 L286.96 142.64 L288.62 141.88 L290.29 141.11 L291.95 140.35 L293.62 139.59 L295.29 138.84 L296.95 138.08 L297.37 137.89 L297.78 137.70 L298.20 137.51 L298.62 137.33 L299.03 137.14 L299.45 136.95 L299.86 136.76 L300.28 136.57 L300.70 136.39 L301.11 136.20 L301.53 136.01 L301.94 135.82 L302.36 135.64 L302.78 135.45 L303.19 135.26 L303.61 135.07 L304.03 134.89 L304.44 134.70 L304.86 134.51 L305.27 134.33 L305.69 134.14 L306.11 133.95 L306.52 133.77 L306.94 133.58 L307.36 133.40 L307.77 133.21 L308.19 133.02 L308.61 132.84 L309.02 132.65 L309.44 132.47 L309.85 132.28 L310.27 132.09 L310.69 131.91 L311.10 131.72 L311.52 131.54 L311.94 131.35 L312.35 131.17 L312.77 130.98 L313.18 130.80 L313.60 130.61" fill="none" stroke="#151515" stroke-width="1.3"/>
<text x="25.40" y="179.65" font-family="Liberation Sans, Arial, sans-serif" font-size="9.3" text-anchor="end" fill="#262626" stroke="#262626" stroke-width="0.15">-60</text>
<text x="25.40" y="158.37" font-family="Liberation Sans, Arial, sans-serif" font-size="9.3" text-anchor="end" fill="#262626" stroke="#262626" stroke-width="0.15">-40</text>
<text x="25.40" y="137.08" font-family="Liberation Sans, Arial, sans-serif" font-size="9.3" text-anchor="end" fill="#262626" stroke="#262626" stroke-width="0.15">-20</text>
<text x="25.40" y="115.80" font-family="Liberation Sans, Arial, sans-serif" font-size="9.3" text-anchor="end" fill="#262626" stroke="#262626" stroke-width="0.15">0</text>
<text x="25.40" y="94.51" font-family="Liberation Sans, Arial, sans-serif" font-size="9.3" text-anchor="end" fill="#262626" stroke="#262626" stroke-width="0.15">20</text>
<text x="25.40" y="73.23" font-family="Liberation Sans, Arial, sans-serif" font-size="9.3" text-anchor="end" fill="#262626" stroke="#262626" stroke-width="0.15">40</text>
<text x="25.40" y="51.95" font-family="Liberation Sans, Arial, sans-serif" font-size="9.3" text-anchor="end" fill="#262626" stroke="#262626" stroke-width="0.15">60</text>
<text x="25.00" y="190.25" font-family="Liberation Sans, Arial, sans-serif" font-size="9.3" text-anchor="end" fill="#262626" stroke="#262626" stroke-width="0.15">1.5</text>
<text x="86.20" y="219.85" font-family="Liberation Sans, Arial, sans-serif" font-size="9.3" text-anchor="middle" fill="#262626" stroke="#262626" stroke-width="0.15">1</text>
<text x="146.30" y="248.85" font-family="Liberation Sans, Arial, sans-serif" font-size="9.3" text-anchor="middle" fill="#262626" stroke="#262626" stroke-width="0.15">0.5</text>
<text x="169.90" y="250.25" font-family="Liberation Sans, Arial, sans-serif" font-size="9.3" text-anchor="middle" fill="#262626" stroke="#262626" stroke-width="0.15">0</text>
<text x="207.10" y="240.95" font-family="Liberation Sans, Arial, sans-serif" font-size="9.3" text-anchor="middle" fill="#262626" stroke="#262626" stroke-width="0.15">0.2</text>
<text x="240.20" y="232.45" font-family="Liberation Sans, Arial, sans-serif" font-size="9.3" text-anchor="middle" fill="#262626" stroke="#262626" stroke-width="0.15">0.4</text>
<text x="273.60" y="223.05" font-family="Liberation Sans, Arial, sans-serif" font-size="9.3" text-anchor="middle" fill="#262626" stroke="#262626" stroke-width="0.15">0.6</text>
<text x="306.90" y="214.15" font-family="Liberation Sans, Arial, sans-serif" font-size="9.3" text-anchor="middle" fill="#262626" stroke="#262626" stroke-width="0.15">0.8</text>
<text x="336.30" y="205.05" font-family="Liberation Sans, Arial, sans-serif" font-size="9.3" text-anchor="middle" fill="#262626" stroke="#262626" stroke-width="0.15">1</text>
<text x="96.20" y="247.20" font-family="Liberation Serif, Times New Roman, serif" font-size="9.3" text-anchor="middle" fill="#262626" stroke="#262626" stroke-width="0.15">Te</text>
<text x="230.00" y="250.60" font-family="Liberation Serif, Times New Roman, serif" font-size="9" text-anchor="start" fill="#262626" stroke="#262626" stroke-width="0.15" textLength="66.6" lengthAdjust="spacing">Angular freqnency</text>
<text transform="translate(7.3,115.3) rotate(-90)" font-family="Liberation Serif, Times New Roman, serif" font-size="9" text-anchor="middle" fill="#262626">Gain</text>
<line x1="546.50" y1="135.10" x2="546.50" y2="8.20" stroke="#707070" stroke-width="0.9"/>
<line x1="672.50" y1="193.25" x2="672.50" y2="66.35" stroke="#505050" stroke-width="0.9"/>
<line x1="381.50" y1="179.60" x2="381.50" y2="52.70" stroke="#505050" stroke-width="0.9"/>
<line x1="381.50" y1="52.70" x2="546.50" y2="8.20" stroke="#262626" stroke-width="0.8"/>
<line x1="546.50" y1="8.20" x2="672.50" y2="66.35" stroke="#262626" stroke-width="0.8"/>
<line x1="381.50" y1="179.60" x2="546.50" y2="135.10" stroke="#262626" stroke-width="0.8"/>
<line x1="546.50" y1="135.10" x2="672.50" y2="193.25" stroke="#262626" stroke-width="0.8"/>
<line x1="381.50" y1="179.60" x2="507.50" y2="237.75" stroke="#262626" stroke-width="0.8"/>
<line x1="507.50" y1="237.75" x2="672.50" y2="193.25" stroke="#262626" stroke-width="0.8"/>
<line x1="381.50" y1="179.60" x2="377.50" y2="177.76" stroke="#262626" stroke-width="0.8"/>
<line x1="381.50" y1="154.22" x2="377.50" y2="152.38" stroke="#262626" stroke-width="0.8"/>
<line x1="381.50" y1="128.84" x2="377.50" y2="127.00" stroke="#262626" stroke-width="0.8"/>
<line x1="381.50" y1="103.46" x2="377.50" y2="101.62" stroke="#262626" stroke-width="0.8"/>
<line x1="381.50" y1="78.08" x2="377.50" y2="76.24" stroke="#262626" stroke-width="0.8"/>
<line x1="381.50" y1="52.70" x2="377.50" y2="50.86" stroke="#262626" stroke-width="0.8"/>
<line x1="507.50" y1="237.75" x2="503.25" y2="238.90" stroke="#262626" stroke-width="0.8"/>
<line x1="444.50" y1="208.67" x2="440.25" y2="209.82" stroke="#262626" stroke-width="0.8"/>
<line x1="381.50" y1="179.60" x2="377.25" y2="180.75" stroke="#262626" stroke-width="0.8"/>
<line x1="507.50" y1="237.75" x2="511.50" y2="239.59" stroke="#262626" stroke-width="0.8"/>
<line x1="540.50" y1="228.85" x2="544.50" y2="230.69" stroke="#262626" stroke-width="0.8"/>
<line x1="573.50" y1="219.95" x2="577.50" y2="221.79" stroke="#262626" stroke-width="0.8"/>
<line x1="606.50" y1="211.05" x2="610.50" y2="212.89" stroke="#262626" stroke-width="0.8"/>
<line x1="639.50" y1="202.15" x2="643.50" y2="203.99" stroke="#262626" stroke-width="0.8"/>
<line x1="672.50" y1="193.25" x2="676.50" y2="195.09" stroke="#262626" stroke-width="0.8"/>
<path d="M381.50 179.60 L381.91 173.76 L382.32 168.00 L382.74 162.37 L383.15 156.93 L383.56 151.74 L383.98 146.81 L384.39 142.17 L384.80 137.82 L385.21 133.77 L385.62 130.00 L386.04 126.50 L386.45 123.27 L386.86 120.27 L387.27 117.49 L387.69 114.92 L388.10 112.53 L388.51 110.31 L388.93 108.25 L389.34 106.33 L389.75 104.54 L390.16 102.86 L390.57 101.30 L390.99 99.83 L391.40 98.45 L391.81 97.15 L392.23 95.93 L392.64 94.77 L393.05 93.68 L393.46 92.64 L393.88 91.66 L394.29 90.73 L394.70 89.84 L395.11 89.00 L395.52 88.19 L395.94 87.42 L396.35 86.68 L396.76 85.98 L397.18 85.30 L397.59 84.65 L398.00 84.03 L399.65 81.76 L401.30 79.78 L402.95 78.04 L404.60 76.49 L406.25 75.08 L407.90 73.81 L409.55 72.63 L411.20 71.55 L412.85 70.54 L414.50 69.59 L416.15 68.70 L417.80 67.85 L419.45 67.05 L421.10 66.28 L422.75 65.55 L424.40 64.84 L426.05 64.16 L427.70 63.50 L429.35 62.86 L431.00 62.24 L432.65 61.64 L434.30 61.07 L435.95 60.50 L437.60 59.95 L439.25 59.40 L440.90 58.87 L442.55 58.35 L444.20 57.84 L445.85 57.33 L447.50 56.83 L449.15 56.34 L450.80 55.86 L452.45 55.38 L454.10 54.91 L455.75 54.45 L457.40 53.99 L459.05 53.53 L460.70 53.08 L462.35 52.63 L464.00 52.18 L465.65 51.74 L467.30 51.31 L468.95 50.87 L470.60 50.44 L472.25 50.01 L473.90 49.59 L475.55 49.17 L477.20 48.75 L478.85 48.33 L480.50 47.91 L482.15 47.50 L483.80 47.09 L485.45 46.68 L487.10 46.27 L488.75 45.87 L490.40 45.46 L492.05 45.06 L493.70 44.66 L495.35 44.26 L497.00 43.86 L498.65 43.46 L500.30 43.10 L501.95 42.93 L503.60 42.79 L505.25 42.66 L506.90 42.55 L508.55 42.46 L510.20 42.40 L511.85 42.36 L513.50 42.36 L515.15 42.40 L516.80 42.50 L518.45 42.65 L520.10 42.86 L521.75 43.16 L523.40 43.52 L525.05 43.92 L526.70 44.34 L528.35 44.84 L530.00 45.51 L530.41 45.72 L530.83 45.94 L531.24 46.18 L531.65 46.42 L532.06 46.66 L532.48 46.90 L532.89 47.14 L533.30 47.35 L533.71 47.56 L534.12 47.76 L534.54 47.98 L534.95 48.23 L535.36 48.52 L535.77 48.87 L536.19 49.29 L536.60 49.91 L537.01 50.68 L537.42 51.53 L537.84 52.39 L538.25 53.19 L538.66 53.91 L539.08 54.59 L539.49 55.26 L539.90 55.94 L540.31 56.64 L540.73 57.39 L541.14 58.19 L541.55 59.02 L541.96 59.88 L542.38 60.79 L542.79 61.76 L543.20 62.80 L543.61 63.93 L544.02 65.14 L544.44 66.53 L544.85 68.19 L545.26 70.77 L545.67 72.98 L546.09 74.04 L546.50 74.44" fill="none" stroke="#111" stroke-width="1.0"/>
<path d="M382.74 162.37 L383.15 156.93" fill="none" stroke="#ff1414" stroke-width="1.05" stroke-opacity="0.15"/>
<path d="M383.15 156.93 L383.56 151.74" fill="none" stroke="#ff1414" stroke-width="1.05" stroke-opacity="0.3"/>
<path d="M383.56 151.74 L383.98 146.81" fill="none" stroke="#ff1414" stroke-width="1.05" stroke-opacity="0.45"/>
<path d="M383.98 146.81 L384.39 142.17" fill="none" stroke="#ff1414" stroke-width="1.05" stroke-opacity="0.6"/>
<path d="M384.39 142.17 L384.80 137.82" fill="none" stroke="#ff1414" stroke-width="1.05" stroke-opacity="0.7"/>
<path d="M384.80 137.82 L385.21 133.77" fill="none" stroke="#ff1414" stroke-width="1.05" stroke-opacity="0.85"/>
<path d="M385.21 133.77 L385.62 130.00" fill="none" stroke="#ff1414" stroke-width="1.05" stroke-opacity="0.95"/>
<path d="M385.62 130.00 L386.04 126.50 L386.45 123.27 L386.86 120.27 L387.27 117.49 L387.69 114.92 L388.10 112.53 L388.51 110.31 L388.93 108.25 L389.34 106.33 L389.75 104.54 L390.16 102.86 L390.57 101.30 L390.99 99.83 L391.40 98.45 L391.81 97.15 L392.23 95.93 L392.64 94.77 L393.05 93.68 L393.46 92.64 L393.88 91.66 L394.29 90.73 L394.70 89.84 L395.11 89.00 L395.52 88.19 L395.94 87.42 L396.35 86.68 L396.76 85.98 L397.18 85.30 L397.59 84.65 L398.00 84.03 L399.65 81.76 L401.30 79.78 L402.95 78.04 L404.60 76.49 L406.25 75.08 L407.90 73.81 L409.55 72.63 L411.20 71.55 L412.85 70.54 L414.50 69.59 L416.15 68.70 L417.80 67.85 L419.45 67.05 L421.10 66.28 L422.75 65.55 L424.40 64.84 L426.05 64.16 L427.70 63.50 L429.35 62.86 L431.00 62.24 L432.65 61.61 L434.30 60.99 L435.95 60.38 L437.60 59.79 L439.25 59.21 L440.90 58.63 L442.55 58.07 L444.20 57.52 L445.85 56.98 L447.50 56.44 L449.15 55.91 L450.80 55.39 L452.45 54.87 L454.10 54.36 L455.75 53.85 L457.40 53.35 L459.05 52.86 L460.70 52.37 L462.35 51.88 L464.00 51.40 L465.65 50.92 L467.30 50.44 L468.95 49.97 L470.60 49.50 L472.25 49.03 L473.90 48.56 L475.55 48.10 L477.20 47.64 L478.85 47.18 L480.50 46.73 L482.15 46.28 L483.80 45.83 L485.45 45.38 L487.10 44.93 L488.75 44.48 L490.40 44.04 L492.05 43.60 L493.70 43.16 L495.35 42.72 L497.00 42.28 L498.65 41.85 L500.30 41.45 L501.95 41.27 L503.60 41.10 L505.25 40.94 L506.90 40.78 L508.55 40.62 L510.20 40.46 L511.85 40.33 L513.50 40.22 L515.15 40.17 L516.80 40.18 L518.45 40.23 L520.10 40.32 L521.75 40.43 L523.40 40.57 L525.05 40.78 L526.70 41.09 L528.35 41.60 L530.00 42.27 L530.41 42.45 L530.83 42.62 L531.24 42.79 L531.65 42.95 L532.06 43.11 L532.48 43.27 L532.89 43.43 L533.30 43.58 L533.71 43.75 L534.12 43.92 L534.54 44.10 L534.95 44.30 L535.36 44.51 L535.77 44.74 L536.19 44.99 L536.60 45.26 L537.01 45.56 L537.42 45.88 L537.84 46.23 L538.25 46.60 L538.66 46.99 L539.08 47.41 L539.49 47.86 L539.90 48.34 L540.31 48.85 L540.73 49.42 L541.14 50.03 L541.55 50.71 L541.96 51.44 L542.38 52.25 L542.79 53.18 L543.20 54.22 L543.61 55.38 L544.02 56.64 L544.44 58.11 L544.85 59.96 L545.26 61.30 L545.67 62.01 L546.09 62.57 L546.50 63.02" fill="none" stroke="#ff1414" stroke-width="1.05" stroke-opacity="1.0"/>
<path d="M394.10 185.41 L394.51 180.17 L394.93 174.98 L395.34 169.89 L395.75 164.94 L396.16 160.16 L396.58 155.59 L396.99 151.25 L397.40 147.13 L397.81 143.25 L398.23 139.61 L398.64 136.19 L399.05 133.00 L399.46 130.01 L399.88 127.23 L400.29 124.62 L400.70 122.19 L401.11 119.92 L401.53 117.79 L401.94 115.79 L402.35 113.93 L402.76 112.17 L403.18 110.52 L403.59 108.97 L404.00 107.51 L404.41 106.13 L404.83 104.82 L405.24 103.59 L405.65 102.42 L406.06 101.30 L406.48 100.25 L406.89 99.24 L407.30 98.28 L407.71 97.37 L408.12 96.49 L408.54 95.66 L408.95 94.86 L409.36 94.09 L409.78 93.35 L410.19 92.65 L410.60 91.97 L412.25 89.48 L413.90 87.32 L415.55 85.41 L417.20 83.70 L418.85 82.16 L420.50 80.75 L422.15 79.46 L423.80 78.27 L425.45 77.15 L427.10 76.11 L428.75 75.13 L430.40 74.20 L432.05 73.32 L433.70 72.47 L435.35 71.66 L437.00 70.89 L438.65 70.14 L440.30 69.42 L441.95 68.72 L443.60 68.04 L445.25 67.39 L446.90 66.76 L448.55 66.15 L450.20 65.55 L451.85 64.96 L453.50 64.39 L455.15 63.82 L456.80 63.27 L458.45 62.72 L460.10 62.18 L461.75 61.66 L463.40 61.13 L465.05 60.62 L466.70 60.11 L468.35 59.61 L470.00 59.11 L471.65 58.62 L473.30 58.13 L474.95 57.65 L476.60 57.17 L478.25 56.70 L479.90 56.23 L481.55 55.76 L483.20 55.30 L484.85 54.84 L486.50 54.38 L488.15 53.93 L489.80 53.48 L491.45 53.03 L493.10 52.58 L494.75 52.14 L496.40 51.70 L498.05 51.26 L499.70 50.82 L501.35 50.39 L503.00 49.95 L504.65 49.52 L506.30 49.09 L507.95 48.67 L509.60 48.26 L511.25 47.87 L512.90 47.49 L514.55 47.14 L516.20 46.83 L517.85 46.54 L519.50 46.27 L521.15 46.07 L522.80 45.91 L524.45 45.77 L526.10 45.63 L527.75 45.46 L529.40 45.30 L531.05 45.16 L532.70 45.06 L534.35 45.06 L536.00 45.16 L537.65 45.22 L539.30 45.15 L540.95 45.06 L542.60 45.24 L543.01 45.33 L543.43 45.42 L543.84 45.52 L544.25 45.63 L544.66 45.73 L545.08 45.83 L545.49 45.92 L545.90 46.00 L546.31 46.08 L546.73 46.15 L547.14 46.22 L547.55 46.29 L547.96 46.36 L548.38 46.42 L548.79 46.49 L549.20 46.56 L549.61 46.64 L550.02 46.72 L550.44 46.81 L550.85 46.91 L551.26 47.01 L551.68 47.13 L552.09 47.26 L552.50 47.41 L552.91 47.57 L553.33 47.75 L553.74 47.95 L554.15 48.17 L554.56 48.40 L554.98 48.66 L555.39 48.93 L555.80 49.22 L556.21 49.52 L556.62 49.83 L557.04 50.16 L557.45 50.50 L557.86 50.85 L558.27 51.21 L558.69 51.58 L559.10 51.96" fill="none" stroke="#111" stroke-width="1.0"/>
<path d="M395.34 169.89 L395.75 164.94" fill="none" stroke="#ff1414" stroke-width="1.05" stroke-opacity="0.05"/>
<path d="M395.75 164.94 L396.16 160.16" fill="none" stroke="#ff1414" stroke-width="1.05" stroke-opacity="0.2"/>
<path d="M396.16 160.16 L396.58 155.59" fill="none" stroke="#ff1414" stroke-width="1.05" stroke-opacity="0.35"/>
<path d="M396.58 155.59 L396.99 151.25" fill="none" stroke="#ff1414" stroke-width="1.05" stroke-opacity="0.5"/>
<path d="M396.99 151.25 L397.40 147.13" fill="none" stroke="#ff1414" stroke-width="1.05" stroke-opacity="0.6"/>
<path d="M397.40 147.13 L397.81 143.25" fill="none" stroke="#ff1414" stroke-width="1.05" stroke-opacity="0.75"/>
<path d="M397.81 143.25 L398.23 139.61" fill="none" stroke="#ff1414" stroke-width="1.05" stroke-opacity="0.85"/>
<path d="M398.23 139.61 L398.64 136.19" fill="none" stroke="#ff1414" stroke-width="1.05" stroke-opacity="0.95"/>
<path d="M398.64 136.19 L399.05 133.00 L399.46 130.01 L399.88 127.23 L400.29 124.62 L400.70 122.19 L401.11 119.92 L401.53 117.79 L401.94 115.79 L402.35 113.93 L402.76 112.17 L403.18 110.52 L403.59 108.97 L404.00 107.51 L404.41 106.13 L404.83 104.82 L405.24 103.59 L405.65 102.42 L406.06 101.30 L406.48 100.25 L406.89 99.24 L407.30 98.28 L407.71 97.37 L408.12 96.49 L408.54 95.66 L408.95 94.86 L409.36 94.09 L409.78 93.35 L410.19 92.65 L410.60 91.97 L412.25 89.48 L413.90 87.32 L415.55 85.41 L417.20 83.70 L418.85 82.16 L420.50 80.75 L422.15 79.46 L423.80 78.27 L425.45 77.15 L427.10 76.11 L428.75 75.13 L430.40 74.20 L432.05 73.32 L433.70 72.47 L435.35 71.66 L437.00 70.89 L438.65 70.14 L440.30 69.42 L441.95 68.72 L443.60 68.04 L445.25 67.36 L446.90 66.71 L448.55 66.07 L450.20 65.44 L451.85 64.82 L453.50 64.22 L455.15 63.63 L456.80 63.05 L458.45 62.48 L460.10 61.91 L461.75 61.36 L463.40 60.81 L465.05 60.26 L466.70 59.73 L468.35 59.20 L470.00 58.67 L471.65 58.16 L473.30 57.64 L474.95 57.13 L476.60 56.63 L478.25 56.13 L479.90 55.63 L481.55 55.13 L483.20 54.64 L484.85 54.16 L486.50 53.67 L488.15 53.19 L489.80 52.71 L491.45 52.24 L493.10 51.76 L494.75 51.29 L496.40 50.83 L498.05 50.36 L499.70 49.89 L501.35 49.43 L503.00 48.97 L504.65 48.51 L506.30 48.07 L507.95 47.65 L509.60 47.25 L511.25 46.86 L512.90 46.48 L514.55 46.14 L516.20 45.83 L517.85 45.54 L519.50 45.24 L521.15 44.96 L522.80 44.69 L524.45 44.44 L526.10 44.21 L527.75 44.03 L529.40 43.90 L531.05 43.78 L532.70 43.67 L534.35 43.55 L536.00 43.43 L537.65 43.33 L539.30 43.22 L540.95 43.15 L542.60 43.18 L543.01 43.20 L543.43 43.23 L543.84 43.26 L544.25 43.29 L544.66 43.33 L545.08 43.37 L545.49 43.41 L545.90 43.45 L546.31 43.49 L546.73 43.53 L547.14 43.57 L547.55 43.61 L547.96 43.66 L548.38 43.71 L548.79 43.76 L549.20 43.82 L549.61 43.88 L550.02 43.95 L550.44 44.03 L550.85 44.11 L551.26 44.21 L551.68 44.31 L552.09 44.43 L552.50 44.57 L552.91 44.73 L553.33 44.91 L553.74 45.10 L554.15 45.30 L554.56 45.50 L554.98 45.71 L555.39 45.91 L555.80 46.10 L556.21 46.30 L556.62 46.50 L557.04 46.70 L557.45 46.90 L557.86 47.11 L558.27 47.32 L558.69 47.53 L559.10 47.75" fill="none" stroke="#ff1414" stroke-width="1.05" stroke-opacity="1.0"/>
<path d="M406.70 191.23 L407.11 186.29 L407.52 181.39 L407.94 176.58 L408.35 171.88 L408.76 167.33 L409.18 162.96 L409.59 158.77 L410.00 154.79 L410.41 151.02 L410.82 147.46 L411.24 144.10 L411.65 140.94 L412.06 137.98 L412.47 135.19 L412.89 132.58 L413.30 130.13 L413.71 127.83 L414.12 125.67 L414.54 123.64 L414.95 121.74 L415.36 119.94 L415.77 118.25 L416.19 116.65 L416.60 115.14 L417.01 113.71 L417.43 112.36 L417.84 111.08 L418.25 109.86 L418.66 108.70 L419.07 107.60 L419.49 106.55 L419.90 105.55 L420.31 104.59 L420.72 103.67 L421.14 102.80 L421.55 101.96 L421.96 101.15 L422.38 100.38 L422.79 99.63 L423.20 98.92 L424.85 96.30 L426.50 94.01 L428.15 91.98 L429.80 90.17 L431.45 88.53 L433.10 87.03 L434.75 85.66 L436.40 84.38 L438.05 83.20 L439.70 82.08 L441.35 81.03 L443.00 80.04 L444.65 79.09 L446.30 78.19 L447.95 77.32 L449.60 76.49 L451.25 75.69 L452.90 74.91 L454.55 74.16 L456.20 73.43 L457.85 72.81 L459.50 72.21 L461.15 71.62 L462.80 71.05 L464.45 70.49 L466.10 69.95 L467.75 69.41 L469.40 68.89 L471.05 68.37 L472.70 67.87 L474.35 67.37 L476.00 66.88 L477.65 66.40 L479.30 65.93 L480.95 65.46 L482.60 65.00 L484.25 64.54 L485.90 64.09 L487.55 63.64 L489.20 63.20 L490.85 62.76 L492.50 62.33 L494.15 61.90 L495.80 61.47 L497.45 61.05 L499.10 60.63 L500.75 60.21 L502.40 59.80 L504.05 59.38 L505.70 58.98 L507.35 58.57 L509.00 58.17 L510.65 57.77 L512.30 57.37 L513.95 56.97 L515.60 56.57 L517.25 56.18 L518.90 55.79 L520.55 55.40 L522.20 55.01 L523.85 54.63 L525.50 54.24 L527.15 53.86 L528.80 53.48 L530.45 53.10 L532.10 52.72 L533.75 52.34 L535.40 51.96 L537.05 51.59 L538.70 51.21 L540.35 50.82 L542.00 50.37 L543.65 49.94 L545.30 49.53 L546.95 49.13 L548.60 48.75 L550.25 48.43 L551.90 48.25 L553.55 48.15 L555.20 48.11 L555.61 48.10 L556.03 48.09 L556.44 48.08 L556.85 48.07 L557.26 48.06 L557.68 48.04 L558.09 48.03 L558.50 48.02 L558.91 48.02 L559.33 48.01 L559.74 48.01 L560.15 48.01 L560.56 48.02 L560.98 48.02 L561.39 48.03 L561.80 48.04 L562.21 48.06 L562.62 48.07 L563.04 48.09 L563.45 48.11 L563.86 48.13 L564.28 48.15 L564.69 48.18 L565.10 48.20 L565.51 48.23 L565.93 48.27 L566.34 48.30 L566.75 48.34 L567.16 48.38 L567.58 48.43 L567.99 48.48 L568.40 48.53 L568.81 48.59 L569.23 48.65 L569.64 48.72 L570.05 48.78 L570.46 48.86 L570.88 48.93 L571.29 49.00 L571.70 49.08" fill="none" stroke="#111" stroke-width="1.0"/>
<path d="M407.94 176.58 L408.35 171.88" fill="none" stroke="#ff1414" stroke-width="1.05" stroke-opacity="0.05"/>
<path d="M408.35 171.88 L408.76 167.33" fill="none" stroke="#ff1414" stroke-width="1.05" stroke-opacity="0.2"/>
<path d="M408.76 167.33 L409.18 162.96" fill="none" stroke="#ff1414" stroke-width="1.05" stroke-opacity="0.3"/>
<path d="M409.18 162.96 L409.59 158.77" fill="none" stroke="#ff1414" stroke-width="1.05" stroke-opacity="0.45"/>
<path d="M409.59 158.77 L410.00 154.79" fill="none" stroke="#ff1414" stroke-width="1.05" stroke-opacity="0.55"/>
<path d="M410.00 154.79 L410.41 151.02" fill="none" stroke="#ff1414" stroke-width="1.05" stroke-opacity="0.65"/>
<path d="M410.41 151.02 L410.82 147.46" fill="none" stroke="#ff1414" stroke-width="1.05" stroke-opacity="0.8"/>
<path d="M410.82 147.46 L411.24 144.10" fill="none" stroke="#ff1414" stroke-width="1.05" stroke-opacity="0.9"/>
<path d="M411.24 144.10 L411.65 140.94 L412.06 137.98 L412.47 135.19 L412.89 132.58 L413.30 130.13 L413.71 127.83 L414.12 125.67 L414.54 123.64 L414.95 121.74 L415.36 119.94 L415.77 118.25 L416.19 116.65 L416.60 115.14 L417.01 113.71 L417.43 112.36 L417.84 111.08 L418.25 109.86 L418.66 108.70 L419.07 107.60 L419.49 106.55 L419.90 105.55 L420.31 104.59 L420.72 103.67 L421.14 102.80 L421.55 101.96 L421.96 101.15 L422.38 100.38 L422.79 99.63 L423.20 98.92 L424.85 96.30 L426.50 94.01 L428.15 91.98 L429.80 90.17 L431.45 88.53 L433.10 87.03 L434.75 85.66 L436.40 84.38 L438.05 83.20 L439.70 82.08 L441.35 81.03 L443.00 80.04 L444.65 79.09 L446.30 78.19 L447.95 77.32 L449.60 76.49 L451.25 75.69 L452.90 74.91 L454.55 74.16 L456.20 73.43 L457.85 72.78 L459.50 72.14 L461.15 71.52 L462.80 70.91 L464.45 70.32 L466.10 69.73 L467.75 69.16 L469.40 68.61 L471.05 68.06 L472.70 67.52 L474.35 66.98 L476.00 66.46 L477.65 65.94 L479.30 65.43 L480.95 64.93 L482.60 64.43 L484.25 63.94 L485.90 63.45 L487.55 62.97 L489.20 62.49 L490.85 62.02 L492.50 61.55 L494.15 61.09 L495.80 60.62 L497.45 60.17 L499.10 59.71 L500.75 59.26 L502.40 58.81 L504.05 58.36 L505.70 57.92 L507.35 57.48 L509.00 57.04 L510.65 56.60 L512.30 56.17 L513.95 55.74 L515.60 55.31 L517.25 54.88 L518.90 54.45 L520.55 54.03 L522.20 53.60 L523.85 53.18 L525.50 52.76 L527.15 52.34 L528.80 51.93 L530.45 51.51 L532.10 51.10 L533.75 50.68 L535.40 50.27 L537.05 49.86 L538.70 49.45 L540.35 49.07 L542.00 48.81 L543.65 48.56 L545.30 48.31 L546.95 48.08 L548.60 47.85 L550.25 47.62 L551.90 47.41 L553.55 47.20 L555.20 47.01 L555.61 46.96 L556.03 46.92 L556.44 46.87 L556.85 46.83 L557.26 46.80 L557.68 46.76 L558.09 46.72 L558.50 46.69 L558.91 46.66 L559.33 46.63 L559.74 46.60 L560.15 46.57 L560.56 46.54 L560.98 46.51 L561.39 46.49 L561.80 46.46 L562.21 46.44 L562.62 46.42 L563.04 46.40 L563.45 46.38 L563.86 46.37 L564.28 46.35 L564.69 46.34 L565.10 46.32 L565.51 46.31 L565.93 46.30 L566.34 46.29 L566.75 46.29 L567.16 46.28 L567.58 46.27 L567.99 46.27 L568.40 46.27 L568.81 46.26 L569.23 46.26 L569.64 46.27 L570.05 46.27 L570.46 46.27 L570.88 46.28 L571.29 46.28 L571.70 46.29" fill="none" stroke="#ff1414" stroke-width="1.05" stroke-opacity="1.0"/>
<path d="M419.30 197.04 L419.71 192.52 L420.12 188.03 L420.54 183.61 L420.95 179.27 L421.36 175.06 L421.78 170.98 L422.19 167.05 L422.60 163.29 L423.01 159.70 L423.43 156.28 L423.84 153.04 L424.25 149.97 L424.66 147.06 L425.07 144.32 L425.49 141.73 L425.90 139.29 L426.31 136.99 L426.73 134.82 L427.14 132.77 L427.55 130.83 L427.96 129.00 L428.38 127.27 L428.79 125.63 L429.20 124.08 L429.61 122.61 L430.03 121.21 L430.44 119.88 L430.85 118.62 L431.26 117.42 L431.68 116.27 L432.09 115.18 L432.50 114.13 L432.91 113.13 L433.32 112.18 L433.74 111.26 L434.15 110.38 L434.56 109.53 L434.98 108.72 L435.39 107.94 L435.80 107.19 L437.45 104.44 L439.10 102.04 L440.75 99.92 L442.40 98.02 L444.05 96.31 L445.70 94.75 L447.35 93.32 L449.00 92.00 L450.65 90.77 L452.30 89.62 L453.95 88.54 L455.60 87.52 L457.25 86.56 L458.90 85.64 L460.55 84.76 L462.20 83.91 L463.85 83.10 L465.50 82.32 L467.15 81.56 L468.80 80.83 L470.45 80.13 L472.10 79.44 L473.75 78.78 L475.40 78.13 L477.05 77.49 L478.70 76.87 L480.35 76.26 L482.00 75.66 L483.65 75.08 L485.30 74.50 L486.95 73.93 L488.60 73.37 L490.25 72.82 L491.90 72.28 L493.55 71.74 L495.20 71.21 L496.85 70.69 L498.50 70.17 L500.15 69.65 L501.80 69.14 L503.45 68.64 L505.10 68.14 L506.75 67.65 L508.40 67.15 L510.05 66.67 L511.70 66.18 L513.35 65.70 L515.00 65.22 L516.65 64.75 L518.30 64.28 L519.95 63.81 L521.60 63.34 L523.25 62.88 L524.90 62.42 L526.55 61.96 L528.20 61.50 L529.85 61.05 L531.50 60.59 L533.15 60.14 L534.80 59.69 L536.45 59.25 L538.10 58.80 L539.75 58.36 L541.40 57.94 L543.05 57.55 L544.70 57.17 L546.35 56.80 L548.00 56.44 L549.65 56.10 L551.30 55.76 L552.95 55.44 L554.60 55.12 L556.25 54.82 L557.90 54.52 L559.55 54.22 L561.20 53.93 L562.85 53.65 L564.50 53.37 L566.15 53.10 L567.80 52.83 L568.21 52.77 L568.62 52.71 L569.04 52.65 L569.45 52.59 L569.86 52.53 L570.27 52.47 L570.69 52.42 L571.10 52.37 L571.51 52.31 L571.92 52.26 L572.34 52.21 L572.75 52.16 L573.16 52.11 L573.57 52.06 L573.99 52.01 L574.40 51.97 L574.81 51.92 L575.22 51.88 L575.64 51.83 L576.05 51.79 L576.46 51.75 L576.88 51.71 L577.29 51.67 L577.70 51.63 L578.11 51.59 L578.52 51.55 L578.94 51.51 L579.35 51.47 L579.76 51.44 L580.17 51.40 L580.59 51.36 L581.00 51.33 L581.41 51.29 L581.82 51.26 L582.24 51.23 L582.65 51.19 L583.06 51.16 L583.47 51.13 L583.89 51.10 L584.30 51.06" fill="none" stroke="#111" stroke-width="1.0"/>
<path d="M420.95 179.27 L421.36 175.06" fill="none" stroke="#ff1414" stroke-width="1.05" stroke-opacity="0.15"/>
<path d="M421.36 175.06 L421.78 170.98" fill="none" stroke="#ff1414" stroke-width="1.05" stroke-opacity="0.25"/>
<path d="M421.78 170.98 L422.19 167.05" fill="none" stroke="#ff1414" stroke-width="1.05" stroke-opacity="0.35"/>
<path d="M422.19 167.05 L422.60 163.29" fill="none" stroke="#ff1414" stroke-width="1.05" stroke-opacity="0.5"/>
<path d="M422.60 163.29 L423.01 159.70" fill="none" stroke="#ff1414" stroke-width="1.05" stroke-opacity="0.6"/>
<path d="M423.01 159.70 L423.43 156.28" fill="none" stroke="#ff1414" stroke-width="1.05" stroke-opacity="0.7"/>
<path d="M423.43 156.28 L423.84 153.04" fill="none" stroke="#ff1414" stroke-width="1.05" stroke-opacity="0.8"/>
<path d="M423.84 153.04 L424.25 149.97" fill="none" stroke="#ff1414" stroke-width="1.05" stroke-opacity="0.9"/>
<path d="M424.25 149.97 L424.66 147.06" fill="none" stroke="#ff1414" stroke-width="1.05" stroke-opacity="0.95"/>
<path d="M424.66 147.06 L425.07 144.32 L425.49 141.73 L425.90 139.29 L426.31 136.99 L426.73 134.82 L427.14 132.77 L427.55 130.83 L427.96 129.00 L428.38 127.27 L428.79 125.63 L429.20 124.08 L429.61 122.61 L430.03 121.21 L430.44 119.88 L430.85 118.62 L431.26 117.42 L431.68 116.27 L432.09 115.18 L432.50 114.13 L432.91 113.13 L433.32 112.18 L433.74 111.26 L434.15 110.38 L434.56 109.53 L434.98 108.72 L435.39 107.94 L435.80 107.19 L437.45 104.44 L439.10 102.04 L440.75 99.92 L442.40 98.02 L444.05 96.31 L445.70 94.75 L447.35 93.32 L449.00 92.00 L450.65 90.77 L452.30 89.62 L453.95 88.54 L455.60 87.52 L457.25 86.56 L458.90 85.64 L460.55 84.76 L462.20 83.91 L463.85 83.10 L465.50 82.32 L467.15 81.56 L468.80 80.83 L470.45 80.11 L472.10 79.42 L473.75 78.74 L475.40 78.08 L477.05 77.43 L478.70 76.80 L480.35 76.18 L482.00 75.57 L483.65 74.97 L485.30 74.38 L486.95 73.80 L488.60 73.23 L490.25 72.67 L491.90 72.11 L493.55 71.56 L495.20 71.02 L496.85 70.49 L498.50 69.95 L500.15 69.43 L501.80 68.91 L503.45 68.39 L505.10 67.88 L506.75 67.38 L508.40 66.87 L510.05 66.37 L511.70 65.88 L513.35 65.38 L515.00 64.90 L516.65 64.41 L518.30 63.93 L519.95 63.45 L521.60 62.97 L523.25 62.49 L524.90 62.02 L526.55 61.55 L528.20 61.08 L529.85 60.61 L531.50 60.15 L533.15 59.69 L534.80 59.22 L536.45 58.76 L538.10 58.31 L539.75 57.85 L541.40 57.44 L543.05 57.04 L544.70 56.65 L546.35 56.26 L548.00 55.88 L549.65 55.50 L551.30 55.12 L552.95 54.74 L554.60 54.37 L556.25 54.02 L557.90 53.67 L559.55 53.36 L561.20 53.08 L562.85 52.80 L564.50 52.51 L566.15 52.21 L567.80 51.87 L568.21 51.78 L568.62 51.69 L569.04 51.60 L569.45 51.51 L569.86 51.43 L570.27 51.34 L570.69 51.25 L571.10 51.16 L571.51 51.07 L571.92 50.98 L572.34 50.89 L572.75 50.81 L573.16 50.72 L573.57 50.64 L573.99 50.56 L574.40 50.48 L574.81 50.40 L575.22 50.32 L575.64 50.25 L576.05 50.17 L576.46 50.10 L576.88 50.03 L577.29 49.97 L577.70 49.90 L578.11 49.83 L578.52 49.77 L578.94 49.71 L579.35 49.65 L579.76 49.59 L580.17 49.53 L580.59 49.48 L581.00 49.42 L581.41 49.37 L581.82 49.31 L582.24 49.26 L582.65 49.21 L583.06 49.16 L583.47 49.11 L583.89 49.07 L584.30 49.02" fill="none" stroke="#ff1414" stroke-width="1.05" stroke-opacity="1.0"/>
<path d="M431.90 203.24 L432.31 199.09 L432.72 194.96 L433.14 190.88 L433.55 186.88 L433.96 182.96 L434.38 179.15 L434.79 175.47 L435.20 171.92 L435.61 168.51 L436.02 165.24 L436.44 162.12 L436.85 159.15 L437.26 156.32 L437.67 153.63 L438.09 151.07 L438.50 148.65 L438.91 146.36 L439.32 144.18 L439.74 142.12 L440.15 140.16 L440.56 138.30 L440.97 136.54 L441.39 134.86 L441.80 133.27 L442.21 131.75 L442.62 130.31 L443.04 128.94 L443.45 127.63 L443.86 126.38 L444.27 125.19 L444.69 124.04 L445.10 122.95 L445.51 121.90 L445.92 120.90 L446.34 119.94 L446.75 119.02 L447.16 118.13 L447.57 117.27 L447.99 116.45 L448.40 115.66 L450.05 112.75 L451.70 110.21 L453.35 107.96 L455.00 105.95 L456.65 104.13 L458.30 102.48 L459.95 100.96 L461.60 99.56 L463.25 98.26 L464.90 97.05 L466.55 95.91 L468.20 94.83 L469.85 93.81 L471.50 92.84 L473.15 91.91 L474.80 91.03 L476.45 90.18 L478.10 89.36 L479.75 88.56 L481.40 87.80 L483.05 87.05 L484.70 86.33 L486.35 85.63 L488.00 84.94 L489.65 84.27 L491.30 83.62 L492.95 82.98 L494.60 82.35 L496.25 81.73 L497.90 81.12 L499.55 80.53 L501.20 79.94 L502.85 79.36 L504.50 78.79 L506.15 78.23 L507.80 77.67 L509.45 77.12 L511.10 76.58 L512.75 76.04 L514.40 75.51 L516.05 74.98 L517.70 74.46 L519.35 73.94 L521.00 73.42 L522.65 72.91 L524.30 72.41 L525.95 71.91 L527.60 71.41 L529.25 70.91 L530.90 70.42 L532.55 69.93 L534.20 69.45 L535.85 68.96 L537.50 68.48 L539.15 68.00 L540.80 67.53 L542.45 67.05 L544.10 66.58 L545.75 66.11 L547.40 65.64 L549.05 65.18 L550.70 64.72 L552.35 64.25 L554.00 63.79 L555.65 63.33 L557.30 62.88 L558.95 62.42 L560.60 61.97 L562.25 61.51 L563.90 61.06 L565.55 60.61 L567.20 60.16 L568.85 59.71 L570.50 59.27 L572.15 58.82 L573.80 58.37 L575.45 57.93 L577.10 57.49 L578.75 57.05 L580.40 56.60 L580.81 56.49 L581.23 56.38 L581.64 56.27 L582.05 56.16 L582.46 56.05 L582.88 55.94 L583.29 55.83 L583.70 55.72 L584.11 55.62 L584.52 55.51 L584.94 55.40 L585.35 55.29 L585.76 55.18 L586.17 55.07 L586.59 54.96 L587.00 54.85 L587.41 54.74 L587.82 54.63 L588.24 54.52 L588.65 54.41 L589.06 54.30 L589.48 54.19 L589.89 54.08 L590.30 53.98 L590.71 53.87 L591.12 53.76 L591.54 53.65 L591.95 53.54 L592.36 53.43 L592.77 53.32 L593.19 53.21 L593.60 53.11 L594.01 53.00 L594.42 52.89 L594.84 52.78 L595.25 52.67 L595.66 52.56 L596.07 52.45 L596.49 52.35 L596.90 52.24" fill="none" stroke="#111" stroke-width="1.0"/>
<path d="M433.55 186.24 L433.96 182.33" fill="none" stroke="#ff1414" stroke-width="1.05" stroke-opacity="0.1"/>
<path d="M433.96 182.33 L434.38 178.52" fill="none" stroke="#ff1414" stroke-width="1.05" stroke-opacity="0.2"/>
<path d="M434.38 178.52 L434.79 174.83" fill="none" stroke="#ff1414" stroke-width="1.05" stroke-opacity="0.3"/>
<path d="M434.79 174.83 L435.20 171.28" fill="none" stroke="#ff1414" stroke-width="1.05" stroke-opacity="0.4"/>
<path d="M435.20 171.28 L435.61 167.87" fill="none" stroke="#ff1414" stroke-width="1.05" stroke-opacity="0.5"/>
<path d="M435.61 167.87 L436.02 164.60" fill="none" stroke="#ff1414" stroke-width="1.05" stroke-opacity="0.6"/>
<path d="M436.02 164.60 L436.44 161.48" fill="none" stroke="#ff1414" stroke-width="1.05" stroke-opacity="0.7"/>
<path d="M436.44 161.48 L436.85 158.51" fill="none" stroke="#ff1414" stroke-width="1.05" stroke-opacity="0.8"/>
<path d="M436.85 158.51 L437.26 155.68" fill="none" stroke="#ff1414" stroke-width="1.05" stroke-opacity="0.9"/>
<path d="M437.26 155.68 L437.67 152.99" fill="none" stroke="#ff1414" stroke-width="1.05" stroke-opacity="0.95"/>
<path d="M437.67 152.99 L438.09 150.44 L438.50 148.02 L438.91 145.72 L439.32 143.55 L439.74 141.48 L440.15 139.52 L440.56 137.67 L440.97 135.90 L441.39 134.23 L441.80 132.63 L442.21 131.12 L442.62 129.68 L443.04 128.30 L443.45 126.99 L443.86 125.74 L444.27 124.55 L444.69 123.41 L445.10 122.32 L445.51 121.27 L445.92 120.27 L446.34 119.30 L446.75 118.38 L447.16 117.49 L447.57 116.64 L447.99 115.81 L448.40 115.02 L450.05 112.12 L451.70 109.58 L453.35 107.33 L455.00 105.31 L456.65 103.50 L458.30 101.84 L459.95 100.33 L461.60 98.93 L463.25 97.63 L464.90 96.41 L466.55 95.27 L468.20 94.20 L469.85 93.18 L471.50 92.21 L473.15 91.28 L474.80 90.39 L476.45 89.54 L478.10 88.72 L479.75 87.93 L481.40 87.16 L483.05 86.42 L484.70 85.70 L486.35 84.99 L488.00 84.31 L489.65 83.64 L491.30 82.98 L492.95 82.34 L494.60 81.71 L496.25 81.10 L497.90 80.49 L499.55 79.89 L501.20 79.30 L502.85 78.73 L504.50 78.15 L506.15 77.59 L507.80 77.03 L509.45 76.48 L511.10 75.94 L512.75 75.40 L514.40 74.87 L516.05 74.34 L517.70 73.82 L519.35 73.30 L521.00 72.79 L522.65 72.28 L524.30 71.77 L525.95 71.27 L527.60 70.77 L529.25 70.28 L530.90 69.79 L532.55 69.30 L534.20 68.81 L535.85 68.33 L537.50 67.85 L539.15 67.37 L540.80 66.89 L542.45 66.42 L544.10 65.95 L545.75 65.48 L547.40 65.01 L549.05 64.54 L550.70 64.08 L552.35 63.62 L554.00 63.16 L555.65 62.70 L557.30 62.24 L558.95 61.79 L560.60 61.33 L562.25 60.88 L563.90 60.43 L565.55 59.98 L567.20 59.53 L568.85 59.08 L570.50 58.63 L572.15 58.18 L573.80 57.74 L575.45 57.30 L577.10 56.85 L578.75 56.41 L580.40 55.97 L580.81 55.86 L581.23 55.75 L581.64 55.64 L582.05 55.53 L582.46 55.42 L582.88 55.31 L583.29 55.20 L583.70 55.09 L584.11 54.98 L584.52 54.87 L584.94 54.76 L585.35 54.65 L585.76 54.54 L586.17 54.43 L586.59 54.32 L587.00 54.21 L587.41 54.10 L587.82 54.00 L588.24 53.89 L588.65 53.78 L589.06 53.67 L589.48 53.56 L589.89 53.45 L590.30 53.34 L590.71 53.23 L591.12 53.12 L591.54 53.01 L591.95 52.91 L592.36 52.80 L592.77 52.69 L593.19 52.58 L593.60 52.47 L594.01 52.36 L594.42 52.25 L594.84 52.15 L595.25 52.04 L595.66 51.93 L596.07 51.82 L596.49 51.71 L596.90 51.60" fill="none" stroke="#ff1414" stroke-width="1.05" stroke-opacity="1.0"/>
<path d="M444.50 209.06 L444.91 205.24 L445.32 201.44 L445.74 197.68 L446.15 193.97 L446.56 190.34 L446.98 186.79 L447.39 183.34 L447.80 180.00 L448.21 176.77 L448.62 173.66 L449.04 170.67 L449.45 167.81 L449.86 165.07 L450.27 162.45 L450.69 159.95 L451.10 157.56 L451.51 155.29 L451.93 153.12 L452.34 151.06 L452.75 149.09 L453.16 147.22 L453.57 145.43 L453.99 143.73 L454.40 142.11 L454.81 140.56 L455.23 139.08 L455.64 137.67 L456.05 136.32 L456.46 135.03 L456.88 133.79 L457.29 132.61 L457.70 131.47 L458.11 130.38 L458.52 129.33 L458.94 128.33 L459.35 127.36 L459.76 126.43 L460.18 125.53 L460.59 124.67 L461.00 123.84 L462.65 120.78 L464.30 118.09 L465.95 115.71 L467.60 113.58 L469.25 111.66 L470.90 109.90 L472.55 108.30 L474.20 106.81 L475.85 105.44 L477.50 104.15 L479.15 102.94 L480.80 101.81 L482.45 100.73 L484.10 99.71 L485.75 98.73 L487.40 97.80 L489.05 96.90 L490.70 96.04 L492.35 95.21 L494.00 94.41 L495.65 93.63 L497.30 92.87 L498.95 92.14 L500.60 91.42 L502.25 90.72 L503.90 90.04 L505.55 89.37 L507.20 88.71 L508.85 88.07 L510.50 87.44 L512.15 86.82 L513.80 86.21 L515.45 85.61 L517.10 85.02 L518.75 84.44 L520.40 83.86 L522.05 83.29 L523.70 82.73 L525.35 82.18 L527.00 81.63 L528.65 81.08 L530.30 80.54 L531.95 80.01 L533.60 79.48 L535.25 78.96 L536.90 78.44 L538.55 77.92 L540.20 77.41 L541.85 76.90 L543.50 76.39 L545.15 75.89 L546.80 75.39 L548.45 74.89 L550.10 74.40 L551.75 73.91 L553.40 73.42 L555.05 72.93 L556.70 72.45 L558.35 71.97 L560.00 71.49 L561.65 71.01 L563.30 70.54 L564.95 70.06 L566.60 69.59 L568.25 69.12 L569.90 68.65 L571.55 68.19 L573.20 67.72 L574.85 67.26 L576.50 66.80 L578.15 66.34 L579.80 65.88 L581.45 65.42 L583.10 64.96 L584.75 64.51 L586.40 64.05 L588.05 63.60 L589.70 63.15 L591.35 62.69 L593.00 62.24 L593.41 62.13 L593.83 62.02 L594.24 61.91 L594.65 61.79 L595.06 61.68 L595.48 61.57 L595.89 61.46 L596.30 61.35 L596.71 61.23 L597.12 61.12 L597.54 61.01 L597.95 60.90 L598.36 60.79 L598.77 60.68 L599.19 60.56 L599.60 60.45 L600.01 60.34 L600.42 60.23 L600.84 60.12 L601.25 60.01 L601.66 59.90 L602.08 59.78 L602.49 59.67 L602.90 59.56 L603.31 59.45 L603.73 59.34 L604.14 59.23 L604.55 59.12 L604.96 59.01 L605.38 58.90 L605.79 58.78 L606.20 58.67 L606.61 58.56 L607.02 58.45 L607.44 58.34 L607.85 58.23 L608.26 58.12 L608.67 58.01 L609.09 57.90 L609.50 57.79" fill="none" stroke="#111" stroke-width="1.0"/>
<path d="M446.15 193.34 L446.56 189.71" fill="none" stroke="#ff1414" stroke-width="1.05" stroke-opacity="0.05"/>
<path d="M446.56 189.71 L446.98 186.16" fill="none" stroke="#ff1414" stroke-width="1.05" stroke-opacity="0.15"/>
<path d="M446.98 186.16 L447.39 182.71" fill="none" stroke="#ff1414" stroke-width="1.05" stroke-opacity="0.25"/>
<path d="M447.39 182.71 L447.80 179.37" fill="none" stroke="#ff1414" stroke-width="1.05" stroke-opacity="0.35"/>
<path d="M447.80 179.37 L448.21 176.14" fill="none" stroke="#ff1414" stroke-width="1.05" stroke-opacity="0.45"/>
<path d="M448.21 176.14 L448.62 173.03" fill="none" stroke="#ff1414" stroke-width="1.05" stroke-opacity="0.55"/>
<path d="M448.62 173.03 L449.04 170.04" fill="none" stroke="#ff1414" stroke-width="1.05" stroke-opacity="0.65"/>
<path d="M449.04 170.04 L449.45 167.17" fill="none" stroke="#ff1414" stroke-width="1.05" stroke-opacity="0.7"/>
<path d="M449.45 167.17 L449.86 164.43" fill="none" stroke="#ff1414" stroke-width="1.05" stroke-opacity="0.8"/>
<path d="M449.86 164.43 L450.27 161.81" fill="none" stroke="#ff1414" stroke-width="1.05" stroke-opacity="0.85"/>
<path d="M450.27 161.81 L450.69 159.31" fill="none" stroke="#ff1414" stroke-width="1.05" stroke-opacity="0.95"/>
<path d="M450.69 159.31 L451.10 156.93 L451.51 154.65 L451.93 152.49 L452.34 150.42 L452.75 148.46 L453.16 146.58 L453.57 144.80 L453.99 143.10 L454.40 141.47 L454.81 139.92 L455.23 138.45 L455.64 137.03 L456.05 135.68 L456.46 134.39 L456.88 133.16 L457.29 131.97 L457.70 130.83 L458.11 129.75 L458.52 128.70 L458.94 127.69 L459.35 126.73 L459.76 125.80 L460.18 124.90 L460.59 124.04 L461.00 123.20 L462.65 120.14 L464.30 117.46 L465.95 115.08 L467.60 112.95 L469.25 111.02 L470.90 109.27 L472.55 107.66 L474.20 106.18 L475.85 104.80 L477.50 103.52 L479.15 102.31 L480.80 101.17 L482.45 100.09 L484.10 99.07 L485.75 98.10 L487.40 97.16 L489.05 96.27 L490.70 95.41 L492.35 94.57 L494.00 93.77 L495.65 92.99 L497.30 92.24 L498.95 91.50 L500.60 90.78 L502.25 90.09 L503.90 89.40 L505.55 88.74 L507.20 88.08 L508.85 87.44 L510.50 86.81 L512.15 86.19 L513.80 85.58 L515.45 84.98 L517.10 84.39 L518.75 83.80 L520.40 83.23 L522.05 82.66 L523.70 82.10 L525.35 81.54 L527.00 80.99 L528.65 80.45 L530.30 79.91 L531.95 79.38 L533.60 78.85 L535.25 78.32 L536.90 77.80 L538.55 77.28 L540.20 76.77 L541.85 76.26 L543.50 75.76 L545.15 75.25 L546.80 74.75 L548.45 74.26 L550.10 73.76 L551.75 73.27 L553.40 72.78 L555.05 72.30 L556.70 71.82 L558.35 71.33 L560.00 70.85 L561.65 70.38 L563.30 69.90 L564.95 69.43 L566.60 68.96 L568.25 68.49 L569.90 68.02 L571.55 67.55 L573.20 67.09 L574.85 66.62 L576.50 66.16 L578.15 65.70 L579.80 65.24 L581.45 64.78 L583.10 64.33 L584.75 63.87 L586.40 63.42 L588.05 62.96 L589.70 62.51 L591.35 62.06 L593.00 61.61 L593.41 61.50 L593.83 61.38 L594.24 61.27 L594.65 61.16 L595.06 61.05 L595.48 60.94 L595.89 60.82 L596.30 60.71 L596.71 60.60 L597.12 60.49 L597.54 60.38 L597.95 60.26 L598.36 60.15 L598.77 60.04 L599.19 59.93 L599.60 59.82 L600.01 59.71 L600.42 59.59 L600.84 59.48 L601.25 59.37 L601.66 59.26 L602.08 59.15 L602.49 59.04 L602.90 58.93 L603.31 58.82 L603.73 58.70 L604.14 58.59 L604.55 58.48 L604.96 58.37 L605.38 58.26 L605.79 58.15 L606.20 58.04 L606.61 57.93 L607.02 57.82 L607.44 57.71 L607.85 57.60 L608.26 57.49 L608.67 57.38 L609.09 57.27 L609.50 57.16" fill="none" stroke="#ff1414" stroke-width="1.05" stroke-opacity="1.0"/>
<path d="M457.10 214.87 L457.51 211.51 L457.92 208.16 L458.34 204.84 L458.75 201.55 L459.16 198.31 L459.58 195.14 L459.99 192.03 L460.40 188.99 L460.81 186.04 L461.23 183.18 L461.64 180.41 L462.05 177.73 L462.46 175.14 L462.88 172.65 L463.29 170.25 L463.70 167.95 L464.11 165.74 L464.52 163.62 L464.94 161.58 L465.35 159.63 L465.76 157.76 L466.17 155.97 L466.59 154.25 L467.00 152.60 L467.41 151.01 L467.83 149.50 L468.24 148.04 L468.65 146.64 L469.06 145.30 L469.48 144.01 L469.89 142.77 L470.30 141.58 L470.71 140.43 L471.12 139.32 L471.54 138.26 L471.95 137.23 L472.36 136.24 L472.77 135.29 L473.19 134.36 L473.60 133.47 L475.25 130.18 L476.90 127.28 L478.55 124.70 L480.20 122.38 L481.85 120.28 L483.50 118.37 L485.15 116.61 L486.80 114.99 L488.45 113.49 L490.10 112.09 L491.75 110.77 L493.40 109.53 L495.05 108.36 L496.70 107.25 L498.35 106.19 L500.00 105.18 L501.65 104.21 L503.30 103.28 L504.95 102.38 L506.60 101.51 L508.25 100.67 L509.90 99.86 L511.55 99.07 L513.20 98.30 L514.85 97.55 L516.50 96.82 L518.15 96.11 L519.80 95.41 L521.45 94.72 L523.10 94.05 L524.75 93.39 L526.40 92.74 L528.05 92.11 L529.70 91.48 L531.35 90.86 L533.00 90.25 L534.65 89.65 L536.30 89.05 L537.95 88.47 L539.60 87.89 L541.25 87.31 L542.90 86.74 L544.55 86.18 L546.20 85.62 L547.85 85.07 L549.50 84.53 L551.15 83.98 L552.80 83.44 L554.45 82.91 L556.10 82.38 L557.75 81.85 L559.40 81.33 L561.05 80.81 L562.70 80.29 L564.35 79.78 L566.00 79.27 L567.65 78.76 L569.30 78.25 L570.95 77.75 L572.60 77.25 L574.25 76.75 L575.90 76.26 L577.55 75.76 L579.20 75.27 L580.85 74.78 L582.50 74.30 L584.15 73.81 L585.80 73.33 L587.45 72.84 L589.10 72.36 L590.75 71.88 L592.40 71.41 L594.05 70.93 L595.70 70.45 L597.35 69.98 L599.00 69.51 L600.65 69.04 L602.30 68.57 L603.95 68.10 L605.60 67.63 L606.01 67.52 L606.43 67.40 L606.84 67.28 L607.25 67.17 L607.66 67.05 L608.08 66.93 L608.49 66.82 L608.90 66.70 L609.31 66.58 L609.73 66.47 L610.14 66.35 L610.55 66.24 L610.96 66.12 L611.38 66.00 L611.79 65.89 L612.20 65.77 L612.61 65.66 L613.02 65.54 L613.44 65.43 L613.85 65.31 L614.26 65.20 L614.68 65.08 L615.09 64.96 L615.50 64.85 L615.91 64.73 L616.33 64.62 L616.74 64.50 L617.15 64.39 L617.56 64.27 L617.98 64.16 L618.39 64.04 L618.80 63.93 L619.21 63.81 L619.62 63.70 L620.04 63.59 L620.45 63.47 L620.86 63.36 L621.27 63.24 L621.69 63.13 L622.10 63.01" fill="none" stroke="#111" stroke-width="1.0"/>
<path d="M459.16 197.68 L459.58 194.50" fill="none" stroke="#ff1414" stroke-width="1.05" stroke-opacity="0.1"/>
<path d="M459.58 194.50 L459.99 191.39" fill="none" stroke="#ff1414" stroke-width="1.05" stroke-opacity="0.15"/>
<path d="M459.99 191.39 L460.40 188.36" fill="none" stroke="#ff1414" stroke-width="1.05" stroke-opacity="0.25"/>
<path d="M460.40 188.36 L460.81 185.41" fill="none" stroke="#ff1414" stroke-width="1.05" stroke-opacity="0.35"/>
<path d="M460.81 185.41 L461.23 182.54" fill="none" stroke="#ff1414" stroke-width="1.05" stroke-opacity="0.45"/>
<path d="M461.23 182.54 L461.64 179.77" fill="none" stroke="#ff1414" stroke-width="1.05" stroke-opacity="0.5"/>
<path d="M461.64 179.77 L462.05 177.09" fill="none" stroke="#ff1414" stroke-width="1.05" stroke-opacity="0.6"/>
<path d="M462.05 177.09 L462.46 174.51" fill="none" stroke="#ff1414" stroke-width="1.05" stroke-opacity="0.65"/>
<path d="M462.46 174.51 L462.88 172.02" fill="none" stroke="#ff1414" stroke-width="1.05" stroke-opacity="0.75"/>
<path d="M462.88 172.02 L463.29 169.62" fill="none" stroke="#ff1414" stroke-width="1.05" stroke-opacity="0.8"/>
<path d="M463.29 169.62 L463.70 167.32" fill="none" stroke="#ff1414" stroke-width="1.05" stroke-opacity="0.9"/>
<path d="M463.70 167.32 L464.11 165.11" fill="none" stroke="#ff1414" stroke-width="1.05" stroke-opacity="0.95"/>
<path d="M464.11 165.11 L464.52 162.98 L464.94 160.95 L465.35 159.00 L465.76 157.12 L466.17 155.33 L466.59 153.61 L467.00 151.96 L467.41 150.38 L467.83 148.86 L468.24 147.41 L468.65 146.01 L469.06 144.67 L469.48 143.38 L469.89 142.14 L470.30 140.94 L470.71 139.80 L471.12 138.69 L471.54 137.62 L471.95 136.60 L472.36 135.61 L472.77 134.65 L473.19 133.73 L473.60 132.84 L475.25 129.55 L476.90 126.64 L478.55 124.06 L480.20 121.74 L481.85 119.64 L483.50 117.73 L485.15 115.98 L486.80 114.36 L488.45 112.86 L490.10 111.45 L491.75 110.14 L493.40 108.90 L495.05 107.73 L496.70 106.61 L498.35 105.56 L500.00 104.54 L501.65 103.57 L503.30 102.64 L504.95 101.74 L506.60 100.88 L508.25 100.04 L509.90 99.22 L511.55 98.43 L513.20 97.67 L514.85 96.92 L516.50 96.19 L518.15 95.47 L519.80 94.77 L521.45 94.09 L523.10 93.42 L524.75 92.76 L526.40 92.11 L528.05 91.47 L529.70 90.84 L531.35 90.22 L533.00 89.61 L534.65 89.01 L536.30 88.42 L537.95 87.83 L539.60 87.25 L541.25 86.68 L542.90 86.11 L544.55 85.55 L546.20 84.99 L547.85 84.44 L549.50 83.89 L551.15 83.35 L552.80 82.81 L554.45 82.28 L556.10 81.74 L557.75 81.22 L559.40 80.69 L561.05 80.17 L562.70 79.66 L564.35 79.14 L566.00 78.63 L567.65 78.13 L569.30 77.62 L570.95 77.12 L572.60 76.62 L574.25 76.12 L575.90 75.62 L577.55 75.13 L579.20 74.64 L580.85 74.15 L582.50 73.66 L584.15 73.17 L585.80 72.69 L587.45 72.21 L589.10 71.73 L590.75 71.25 L592.40 70.77 L594.05 70.29 L595.70 69.82 L597.35 69.35 L599.00 68.87 L600.65 68.40 L602.30 67.93 L603.95 67.46 L605.60 67.00 L606.01 66.88 L606.43 66.76 L606.84 66.65 L607.25 66.53 L607.66 66.41 L608.08 66.30 L608.49 66.18 L608.90 66.07 L609.31 65.95 L609.73 65.83 L610.14 65.72 L610.55 65.60 L610.96 65.49 L611.38 65.37 L611.79 65.25 L612.20 65.14 L612.61 65.02 L613.02 64.91 L613.44 64.79 L613.85 64.68 L614.26 64.56 L614.68 64.45 L615.09 64.33 L615.50 64.21 L615.91 64.10 L616.33 63.98 L616.74 63.87 L617.15 63.75 L617.56 63.64 L617.98 63.52 L618.39 63.41 L618.80 63.30 L619.21 63.18 L619.62 63.07 L620.04 62.95 L620.45 62.84 L620.86 62.72 L621.27 62.61 L621.69 62.49 L622.10 62.38" fill="none" stroke="#ff1414" stroke-width="1.05" stroke-opacity="1.0"/>
<path d="M469.70 220.69 L470.11 217.69 L470.52 214.70 L470.94 211.73 L471.35 208.78 L471.76 205.87 L472.18 203.00 L472.59 200.19 L473.00 197.42 L473.41 194.72 L473.82 192.08 L474.24 189.52 L474.65 187.02 L475.06 184.59 L475.47 182.24 L475.89 179.97 L476.30 177.77 L476.71 175.64 L477.12 173.59 L477.54 171.61 L477.95 169.70 L478.36 167.85 L478.77 166.08 L479.19 164.37 L479.60 162.72 L480.01 161.13 L480.43 159.60 L480.84 158.13 L481.25 156.71 L481.66 155.34 L482.07 154.02 L482.49 152.75 L482.90 151.52 L483.31 150.33 L483.72 149.18 L484.14 148.08 L484.55 147.01 L484.96 145.97 L485.38 144.97 L485.79 144.00 L486.20 143.07 L487.85 139.60 L489.50 136.52 L491.15 133.77 L492.80 131.29 L494.45 129.05 L496.10 127.00 L497.75 125.12 L499.40 123.38 L501.05 121.77 L502.70 120.26 L504.35 118.86 L506.00 117.53 L507.65 116.28 L509.30 115.09 L510.95 113.96 L512.60 112.88 L514.25 111.85 L515.90 110.86 L517.55 109.91 L519.20 108.99 L520.85 108.10 L522.50 107.24 L524.15 106.41 L525.80 105.60 L527.45 104.82 L529.10 104.05 L530.75 103.30 L532.40 102.57 L534.05 101.85 L535.70 101.15 L537.35 100.46 L539.00 99.79 L540.65 99.12 L542.30 98.47 L543.95 97.83 L545.60 97.20 L547.25 96.57 L548.90 95.96 L550.55 95.35 L552.20 94.75 L553.85 94.16 L555.50 93.58 L557.15 93.00 L558.80 92.42 L560.45 91.86 L562.10 91.29 L563.75 90.74 L565.40 90.18 L567.05 89.64 L568.70 89.09 L570.35 88.55 L572.00 88.02 L573.65 87.49 L575.30 86.96 L576.95 86.43 L578.60 85.91 L580.25 85.39 L581.90 84.88 L583.55 84.37 L585.20 83.86 L586.85 83.35 L588.50 82.84 L590.15 82.34 L591.80 81.84 L593.45 81.34 L595.10 80.85 L596.75 80.35 L598.40 79.86 L600.05 79.37 L601.70 78.89 L603.35 78.40 L605.00 77.92 L606.65 77.43 L608.30 76.95 L609.95 76.47 L611.60 75.99 L613.25 75.52 L614.90 75.04 L616.55 74.57 L618.20 74.10 L618.61 73.98 L619.03 73.86 L619.44 73.74 L619.85 73.62 L620.26 73.51 L620.67 73.39 L621.09 73.27 L621.50 73.15 L621.91 73.04 L622.33 72.92 L622.74 72.80 L623.15 72.68 L623.56 72.57 L623.97 72.45 L624.39 72.33 L624.80 72.22 L625.21 72.10 L625.62 71.98 L626.04 71.87 L626.45 71.75 L626.86 71.63 L627.28 71.52 L627.69 71.40 L628.10 71.28 L628.51 71.17 L628.92 71.05 L629.34 70.93 L629.75 70.82 L630.16 70.70 L630.58 70.59 L630.99 70.47 L631.40 70.36 L631.81 70.24 L632.22 70.12 L632.64 70.01 L633.05 69.89 L633.46 69.78 L633.88 69.66 L634.29 69.55 L634.70 69.43" fill="none" stroke="#111" stroke-width="1.0"/>
<path d="M472.18 202.37 L472.59 199.55" fill="none" stroke="#ff1414" stroke-width="1.05" stroke-opacity="0.1"/>
<path d="M472.59 199.55 L473.00 196.79" fill="none" stroke="#ff1414" stroke-width="1.05" stroke-opacity="0.2"/>
<path d="M473.00 196.79 L473.41 194.09" fill="none" stroke="#ff1414" stroke-width="1.05" stroke-opacity="0.25"/>
<path d="M473.41 194.09 L473.82 191.45" fill="none" stroke="#ff1414" stroke-width="1.05" stroke-opacity="0.35"/>
<path d="M473.82 191.45 L474.24 188.88" fill="none" stroke="#ff1414" stroke-width="1.05" stroke-opacity="0.4"/>
<path d="M474.24 188.88 L474.65 186.38" fill="none" stroke="#ff1414" stroke-width="1.05" stroke-opacity="0.5"/>
<path d="M474.65 186.38 L475.06 183.96" fill="none" stroke="#ff1414" stroke-width="1.05" stroke-opacity="0.55"/>
<path d="M475.06 183.96 L475.47 181.61" fill="none" stroke="#ff1414" stroke-width="1.05" stroke-opacity="0.65"/>
<path d="M475.47 181.61 L475.89 179.33" fill="none" stroke="#ff1414" stroke-width="1.05" stroke-opacity="0.7"/>
<path d="M475.89 179.33 L476.30 177.13" fill="none" stroke="#ff1414" stroke-width="1.05" stroke-opacity="0.75"/>
<path d="M476.30 177.13 L476.71 175.01" fill="none" stroke="#ff1414" stroke-width="1.05" stroke-opacity="0.8"/>
<path d="M476.71 175.01 L477.12 172.95" fill="none" stroke="#ff1414" stroke-width="1.05" stroke-opacity="0.9"/>
<path d="M477.12 172.95 L477.54 170.97" fill="none" stroke="#ff1414" stroke-width="1.05" stroke-opacity="0.95"/>
<path d="M477.54 170.97 L477.95 169.06 L478.36 167.22 L478.77 165.44 L479.19 163.73 L479.60 162.09 L480.01 160.50 L480.43 158.97 L480.84 157.50 L481.25 156.07 L481.66 154.70 L482.07 153.38 L482.49 152.11 L482.90 150.88 L483.31 149.70 L483.72 148.55 L484.14 147.44 L484.55 146.37 L484.96 145.34 L485.38 144.34 L485.79 143.37 L486.20 142.43 L487.85 138.96 L489.50 135.89 L491.15 133.14 L492.80 130.66 L494.45 128.41 L496.10 126.36 L497.75 124.48 L499.40 122.75 L501.05 121.13 L502.70 119.63 L504.35 118.22 L506.00 116.89 L507.65 115.64 L509.30 114.45 L510.95 113.32 L512.60 112.25 L514.25 111.21 L515.90 110.23 L517.55 109.27 L519.20 108.36 L520.85 107.47 L522.50 106.61 L524.15 105.78 L525.80 104.97 L527.45 104.18 L529.10 103.41 L530.75 102.67 L532.40 101.93 L534.05 101.22 L535.70 100.52 L537.35 99.83 L539.00 99.15 L540.65 98.49 L542.30 97.84 L543.95 97.20 L545.60 96.56 L547.25 95.94 L548.90 95.33 L550.55 94.72 L552.20 94.12 L553.85 93.53 L555.50 92.94 L557.15 92.36 L558.80 91.79 L560.45 91.22 L562.10 90.66 L563.75 90.10 L565.40 89.55 L567.05 89.00 L568.70 88.46 L570.35 87.92 L572.00 87.38 L573.65 86.85 L575.30 86.32 L576.95 85.80 L578.60 85.28 L580.25 84.76 L581.90 84.24 L583.55 83.73 L585.20 83.22 L586.85 82.71 L588.50 82.21 L590.15 81.71 L591.80 81.21 L593.45 80.71 L595.10 80.21 L596.75 79.72 L598.40 79.23 L600.05 78.74 L601.70 78.25 L603.35 77.77 L605.00 77.28 L606.65 76.80 L608.30 76.32 L609.95 75.84 L611.60 75.36 L613.25 74.88 L614.90 74.41 L616.55 73.93 L618.20 73.46 L618.61 73.34 L619.03 73.22 L619.44 73.11 L619.85 72.99 L620.26 72.87 L620.67 72.75 L621.09 72.64 L621.50 72.52 L621.91 72.40 L622.33 72.28 L622.74 72.17 L623.15 72.05 L623.56 71.93 L623.97 71.82 L624.39 71.70 L624.80 71.58 L625.21 71.47 L625.62 71.35 L626.04 71.23 L626.45 71.12 L626.86 71.00 L627.28 70.88 L627.69 70.77 L628.10 70.65 L628.51 70.53 L628.92 70.42 L629.34 70.30 L629.75 70.18 L630.16 70.07 L630.58 69.95 L630.99 69.84 L631.40 69.72 L631.81 69.60 L632.22 69.49 L632.64 69.37 L633.05 69.26 L633.46 69.14 L633.88 69.03 L634.29 68.91 L634.70 68.80" fill="none" stroke="#ff1414" stroke-width="1.05" stroke-opacity="1.0"/>
<path d="M482.30 226.50 L482.71 223.88 L483.12 221.27 L483.54 218.66 L483.95 216.08 L484.36 213.52 L484.78 210.98 L485.19 208.48 L485.60 206.02 L486.01 203.60 L486.43 201.22 L486.84 198.90 L487.25 196.62 L487.66 194.39 L488.07 192.22 L488.49 190.11 L488.90 188.05 L489.31 186.04 L489.73 184.10 L490.14 182.21 L490.55 180.37 L490.96 178.59 L491.38 176.87 L491.79 175.19 L492.20 173.57 L492.61 172.00 L493.03 170.48 L493.44 169.01 L493.85 167.58 L494.26 166.20 L494.68 164.86 L495.09 163.57 L495.50 162.31 L495.91 161.09 L496.32 159.91 L496.74 158.77 L497.15 157.66 L497.56 156.59 L497.98 155.54 L498.39 154.53 L498.80 153.55 L500.45 149.88 L502.10 146.61 L503.75 143.66 L505.40 141.00 L507.05 138.57 L508.70 136.35 L510.35 134.30 L512.00 132.41 L513.65 130.65 L515.30 129.01 L516.95 127.48 L518.60 126.03 L520.25 124.66 L521.90 123.37 L523.55 122.14 L525.20 120.97 L526.85 119.85 L528.50 118.77 L530.15 117.74 L531.80 116.75 L533.45 115.79 L535.10 114.86 L536.75 113.96 L538.40 113.09 L540.05 112.24 L541.70 111.42 L543.35 110.61 L545.00 109.83 L546.65 109.06 L548.30 108.31 L549.95 107.58 L551.60 106.86 L553.25 106.15 L554.90 105.45 L556.55 104.77 L558.20 104.10 L559.85 103.44 L561.50 102.78 L563.15 102.14 L564.80 101.51 L566.45 100.88 L568.10 100.26 L569.75 99.65 L571.40 99.05 L573.05 98.45 L574.70 97.86 L576.35 97.27 L578.00 96.69 L579.65 96.11 L581.30 95.54 L582.95 94.98 L584.60 94.41 L586.25 93.86 L587.90 93.30 L589.55 92.76 L591.20 92.21 L592.85 91.67 L594.50 91.13 L596.15 90.59 L597.80 90.06 L599.45 89.53 L601.10 89.01 L602.75 88.48 L604.40 87.96 L606.05 87.45 L607.70 86.93 L609.35 86.42 L611.00 85.91 L612.65 85.40 L614.30 84.89 L615.95 84.38 L617.60 83.88 L619.25 83.38 L620.90 82.88 L622.55 82.38 L624.20 81.89 L625.85 81.39 L627.50 80.90 L629.15 80.41 L630.80 79.92 L631.21 79.80 L631.62 79.68 L632.04 79.55 L632.45 79.43 L632.86 79.31 L633.28 79.19 L633.69 79.07 L634.10 78.95 L634.51 78.82 L634.92 78.70 L635.34 78.58 L635.75 78.46 L636.16 78.34 L636.58 78.22 L636.99 78.10 L637.40 77.98 L637.81 77.86 L638.22 77.73 L638.64 77.61 L639.05 77.49 L639.46 77.37 L639.88 77.25 L640.29 77.13 L640.70 77.01 L641.11 76.89 L641.53 76.77 L641.94 76.65 L642.35 76.53 L642.76 76.41 L643.17 76.29 L643.59 76.17 L644.00 76.05 L644.41 75.93 L644.83 75.81 L645.24 75.69 L645.65 75.57 L646.06 75.45 L646.47 75.34 L646.89 75.22 L647.30 75.10" fill="none" stroke="#111" stroke-width="1.0"/>
<path d="M484.78 210.35 L485.19 207.85" fill="none" stroke="#ff1414" stroke-width="1.05" stroke-opacity="0.05"/>
<path d="M485.19 207.85 L485.60 205.39" fill="none" stroke="#ff1414" stroke-width="1.05" stroke-opacity="0.1"/>
<path d="M485.60 205.39 L486.01 202.96" fill="none" stroke="#ff1414" stroke-width="1.05" stroke-opacity="0.15"/>
<path d="M486.01 202.96 L486.43 200.59" fill="none" stroke="#ff1414" stroke-width="1.05" stroke-opacity="0.25"/>
<path d="M486.43 200.59 L486.84 198.26" fill="none" stroke="#ff1414" stroke-width="1.05" stroke-opacity="0.3"/>
<path d="M486.84 198.26 L487.25 195.98" fill="none" stroke="#ff1414" stroke-width="1.05" stroke-opacity="0.4"/>
<path d="M487.25 195.98 L487.66 193.76" fill="none" stroke="#ff1414" stroke-width="1.05" stroke-opacity="0.45"/>
<path d="M487.66 193.76 L488.07 191.59" fill="none" stroke="#ff1414" stroke-width="1.05" stroke-opacity="0.5"/>
<path d="M488.07 191.59 L488.49 189.47" fill="none" stroke="#ff1414" stroke-width="1.05" stroke-opacity="0.55"/>
<path d="M488.49 189.47 L488.90 187.41" fill="none" stroke="#ff1414" stroke-width="1.05" stroke-opacity="0.65"/>
<path d="M488.90 187.41 L489.31 185.41" fill="none" stroke="#ff1414" stroke-width="1.05" stroke-opacity="0.7"/>
<path d="M489.31 185.41 L489.73 183.46" fill="none" stroke="#ff1414" stroke-width="1.05" stroke-opacity="0.75"/>
<path d="M489.73 183.46 L490.14 181.57" fill="none" stroke="#ff1414" stroke-width="1.05" stroke-opacity="0.8"/>
<path d="M490.14 181.57 L490.55 179.74" fill="none" stroke="#ff1414" stroke-width="1.05" stroke-opacity="0.85"/>
<path d="M490.55 179.74 L490.96 177.96" fill="none" stroke="#ff1414" stroke-width="1.05" stroke-opacity="0.9"/>
<path d="M490.96 177.96 L491.38 176.23" fill="none" stroke="#ff1414" stroke-width="1.05" stroke-opacity="0.95"/>
<path d="M491.38 176.23 L491.79 174.56 L492.20 172.94 L492.61 171.37 L493.03 169.85 L493.44 168.37 L493.85 166.95 L494.26 165.57 L494.68 164.23 L495.09 162.93 L495.50 161.68 L495.91 160.46 L496.32 159.28 L496.74 158.14 L497.15 157.03 L497.56 155.95 L497.98 154.91 L498.39 153.89 L498.80 152.91 L500.45 149.25 L502.10 145.97 L503.75 143.03 L505.40 140.36 L507.05 137.93 L508.70 135.71 L510.35 133.67 L512.00 131.78 L513.65 130.02 L515.30 128.38 L516.95 126.84 L518.60 125.40 L520.25 124.03 L521.90 122.74 L523.55 121.51 L525.20 120.33 L526.85 119.21 L528.50 118.14 L530.15 117.11 L531.80 116.11 L533.45 115.15 L535.10 114.22 L536.75 113.33 L538.40 112.45 L540.05 111.61 L541.70 110.78 L543.35 109.98 L545.00 109.19 L546.65 108.43 L548.30 107.68 L549.95 106.94 L551.60 106.22 L553.25 105.51 L554.90 104.82 L556.55 104.14 L558.20 103.46 L559.85 102.80 L561.50 102.15 L563.15 101.51 L564.80 100.87 L566.45 100.25 L568.10 99.63 L569.75 99.02 L571.40 98.41 L573.05 97.81 L574.70 97.22 L576.35 96.63 L578.00 96.05 L579.65 95.48 L581.30 94.91 L582.95 94.34 L584.60 93.78 L586.25 93.22 L587.90 92.67 L589.55 92.12 L591.20 91.58 L592.85 91.03 L594.50 90.50 L596.15 89.96 L597.80 89.43 L599.45 88.90 L601.10 88.37 L602.75 87.85 L604.40 87.33 L606.05 86.81 L607.70 86.30 L609.35 85.78 L611.00 85.27 L612.65 84.76 L614.30 84.25 L615.95 83.75 L617.60 83.25 L619.25 82.75 L620.90 82.25 L622.55 81.75 L624.20 81.25 L625.85 80.76 L627.50 80.27 L629.15 79.78 L630.80 79.29 L631.21 79.16 L631.62 79.04 L632.04 78.92 L632.45 78.80 L632.86 78.68 L633.28 78.55 L633.69 78.43 L634.10 78.31 L634.51 78.19 L634.92 78.07 L635.34 77.95 L635.75 77.83 L636.16 77.71 L636.58 77.58 L636.99 77.46 L637.40 77.34 L637.81 77.22 L638.22 77.10 L638.64 76.98 L639.05 76.86 L639.46 76.74 L639.88 76.62 L640.29 76.50 L640.70 76.38 L641.11 76.26 L641.53 76.14 L641.94 76.02 L642.35 75.90 L642.76 75.78 L643.17 75.66 L643.59 75.54 L644.00 75.42 L644.41 75.30 L644.83 75.18 L645.24 75.06 L645.65 74.94 L646.06 74.82 L646.47 74.70 L646.89 74.58 L647.30 74.46" fill="none" stroke="#ff1414" stroke-width="1.05" stroke-opacity="1.0"/>
<path d="M494.90 232.32 L495.31 230.05 L495.73 227.80 L496.14 225.55 L496.55 223.31 L496.96 221.08 L497.38 218.88 L497.79 216.69 L498.20 214.53 L498.61 212.40 L499.02 210.30 L499.44 208.23 L499.85 206.19 L500.26 204.19 L500.67 202.22 L501.09 200.30 L501.50 198.41 L501.91 196.56 L502.33 194.76 L502.74 193.00 L503.15 191.27 L503.56 189.59 L503.98 187.95 L504.39 186.36 L504.80 184.80 L505.21 183.28 L505.62 181.80 L506.04 180.36 L506.45 178.96 L506.86 177.60 L507.27 176.27 L507.69 174.98 L508.10 173.72 L508.51 172.49 L508.92 171.30 L509.34 170.14 L509.75 169.01 L510.16 167.91 L510.58 166.84 L510.99 165.80 L511.40 164.78 L513.05 160.97 L514.70 157.53 L516.35 154.40 L518.00 151.55 L519.65 148.95 L521.30 146.55 L522.95 144.33 L524.60 142.28 L526.25 140.37 L527.90 138.58 L529.55 136.91 L531.20 135.33 L532.85 133.84 L534.50 132.43 L536.15 131.09 L537.80 129.81 L539.45 128.59 L541.10 127.42 L542.75 126.30 L544.40 125.22 L546.05 124.18 L547.70 123.18 L549.35 122.21 L551.00 121.27 L552.65 120.36 L554.30 119.47 L555.95 118.60 L557.60 117.76 L559.25 116.94 L560.90 116.14 L562.55 115.35 L564.20 114.58 L565.85 113.83 L567.50 113.09 L569.15 112.36 L570.80 111.65 L572.45 110.95 L574.10 110.26 L575.75 109.58 L577.40 108.91 L579.05 108.25 L580.70 107.60 L582.35 106.95 L584.00 106.32 L585.65 105.69 L587.30 105.06 L588.95 104.45 L590.60 103.84 L592.25 103.24 L593.90 102.64 L595.55 102.05 L597.20 101.46 L598.85 100.88 L600.50 100.31 L602.15 99.74 L603.80 99.17 L605.45 98.60 L607.10 98.04 L608.75 97.49 L610.40 96.94 L612.05 96.39 L613.70 95.84 L615.35 95.30 L617.00 94.76 L618.65 94.23 L620.30 93.69 L621.95 93.16 L623.60 92.63 L625.25 92.11 L626.90 91.59 L628.55 91.07 L630.20 90.55 L631.85 90.03 L633.50 89.52 L635.15 89.00 L636.80 88.49 L638.45 87.99 L640.10 87.48 L641.75 86.98 L643.40 86.47 L643.81 86.35 L644.23 86.22 L644.64 86.10 L645.05 85.97 L645.46 85.85 L645.88 85.72 L646.29 85.60 L646.70 85.47 L647.11 85.35 L647.52 85.22 L647.94 85.10 L648.35 84.97 L648.76 84.85 L649.17 84.73 L649.59 84.60 L650.00 84.48 L650.41 84.35 L650.82 84.23 L651.24 84.11 L651.65 83.98 L652.06 83.86 L652.48 83.74 L652.89 83.61 L653.30 83.49 L653.71 83.37 L654.12 83.24 L654.54 83.12 L654.95 83.00 L655.36 82.87 L655.77 82.75 L656.19 82.63 L656.60 82.51 L657.01 82.38 L657.42 82.26 L657.84 82.14 L658.25 82.02 L658.66 81.89 L659.07 81.77 L659.49 81.65 L659.90 81.53" fill="none" stroke="#111" stroke-width="1.0"/>
<path d="M497.79 216.06 L498.20 213.90" fill="none" stroke="#ff1414" stroke-width="1.05" stroke-opacity="0.05"/>
<path d="M498.20 213.90 L498.61 211.77" fill="none" stroke="#ff1414" stroke-width="1.05" stroke-opacity="0.1"/>
<path d="M498.61 211.77 L499.02 209.66" fill="none" stroke="#ff1414" stroke-width="1.05" stroke-opacity="0.15"/>
<path d="M499.02 209.66 L499.44 207.59" fill="none" stroke="#ff1414" stroke-width="1.05" stroke-opacity="0.2"/>
<path d="M499.44 207.59 L499.85 205.55" fill="none" stroke="#ff1414" stroke-width="1.05" stroke-opacity="0.25"/>
<path d="M499.85 205.55 L500.26 203.55" fill="none" stroke="#ff1414" stroke-width="1.05" stroke-opacity="0.35"/>
<path d="M500.26 203.55 L500.67 201.59" fill="none" stroke="#ff1414" stroke-width="1.05" stroke-opacity="0.4"/>
<path d="M500.67 201.59 L501.09 199.66" fill="none" stroke="#ff1414" stroke-width="1.05" stroke-opacity="0.45"/>
<path d="M501.09 199.66 L501.50 197.78" fill="none" stroke="#ff1414" stroke-width="1.05" stroke-opacity="0.5"/>
<path d="M501.50 197.78 L501.91 195.93" fill="none" stroke="#ff1414" stroke-width="1.05" stroke-opacity="0.55"/>
<path d="M501.91 195.93 L502.33 194.13" fill="none" stroke="#ff1414" stroke-width="1.05" stroke-opacity="0.6"/>
<path d="M502.33 194.13 L502.74 192.36" fill="none" stroke="#ff1414" stroke-width="1.05" stroke-opacity="0.65"/>
<path d="M502.74 192.36 L503.15 190.64" fill="none" stroke="#ff1414" stroke-width="1.05" stroke-opacity="0.7"/>
<path d="M503.15 190.64 L503.56 188.96" fill="none" stroke="#ff1414" stroke-width="1.05" stroke-opacity="0.75"/>
<path d="M503.56 188.96 L503.98 187.32" fill="none" stroke="#ff1414" stroke-width="1.05" stroke-opacity="0.8"/>
<path d="M503.98 187.32 L504.39 185.72" fill="none" stroke="#ff1414" stroke-width="1.05" stroke-opacity="0.85"/>
<path d="M504.39 185.72 L504.80 184.16" fill="none" stroke="#ff1414" stroke-width="1.05" stroke-opacity="0.9"/>
<path d="M504.80 184.16 L505.21 182.65 L505.62 181.17" fill="none" stroke="#ff1414" stroke-width="1.05" stroke-opacity="0.95"/>
<path d="M505.62 181.17 L506.04 179.73 L506.45 178.33 L506.86 176.96 L507.27 175.63 L507.69 174.34 L508.10 173.08 L508.51 171.86 L508.92 170.67 L509.34 169.51 L509.75 168.38 L510.16 167.28 L510.58 166.21 L510.99 165.16 L511.40 164.15 L513.05 160.34 L514.70 156.89 L516.35 153.77 L518.00 150.92 L519.65 148.31 L521.30 145.91 L522.95 143.70 L524.60 141.65 L526.25 139.74 L527.90 137.95 L529.55 136.27 L531.20 134.70 L532.85 133.21 L534.50 131.80 L536.15 130.46 L537.80 129.18 L539.45 127.96 L541.10 126.79 L542.75 125.67 L544.40 124.59 L546.05 123.55 L547.70 122.55 L549.35 121.58 L551.00 120.63 L552.65 119.72 L554.30 118.83 L555.95 117.97 L557.60 117.13 L559.25 116.31 L560.90 115.50 L562.55 114.72 L564.20 113.95 L565.85 113.19 L567.50 112.46 L569.15 111.73 L570.80 111.02 L572.45 110.31 L574.10 109.62 L575.75 108.94 L577.40 108.27 L579.05 107.61 L580.70 106.96 L582.35 106.32 L584.00 105.68 L585.65 105.05 L587.30 104.43 L588.95 103.82 L590.60 103.21 L592.25 102.60 L593.90 102.01 L595.55 101.42 L597.20 100.83 L598.85 100.25 L600.50 99.67 L602.15 99.10 L603.80 98.53 L605.45 97.97 L607.10 97.41 L608.75 96.85 L610.40 96.30 L612.05 95.75 L613.70 95.21 L615.35 94.67 L617.00 94.13 L618.65 93.59 L620.30 93.06 L621.95 92.53 L623.60 92.00 L625.25 91.47 L626.90 90.95 L628.55 90.43 L630.20 89.91 L631.85 89.40 L633.50 88.88 L635.15 88.37 L636.80 87.86 L638.45 87.35 L640.10 86.85 L641.75 86.34 L643.40 85.84 L643.81 85.71 L644.23 85.59 L644.64 85.46 L645.05 85.34 L645.46 85.21 L645.88 85.09 L646.29 84.96 L646.70 84.84 L647.11 84.71 L647.52 84.59 L647.94 84.46 L648.35 84.34 L648.76 84.22 L649.17 84.09 L649.59 83.97 L650.00 83.84 L650.41 83.72 L650.82 83.60 L651.24 83.47 L651.65 83.35 L652.06 83.22 L652.48 83.10 L652.89 82.98 L653.30 82.85 L653.71 82.73 L654.12 82.61 L654.54 82.48 L654.95 82.36 L655.36 82.24 L655.77 82.12 L656.19 81.99 L656.60 81.87 L657.01 81.75 L657.42 81.63 L657.84 81.50 L658.25 81.38 L658.66 81.26 L659.07 81.14 L659.49 81.01 L659.90 80.89" fill="none" stroke="#ff1414" stroke-width="1.05" stroke-opacity="1.0"/>
<text x="374.20" y="180.20" font-family="Liberation Sans, Arial, sans-serif" font-size="9.3" text-anchor="end" fill="#262626" stroke="#262626" stroke-width="0.15">0</text>
<text x="374.20" y="154.82" font-family="Liberation Sans, Arial, sans-serif" font-size="9.3" text-anchor="end" fill="#262626" stroke="#262626" stroke-width="0.15">20</text>
<text x="374.20" y="129.44" font-family="Liberation Sans, Arial, sans-serif" font-size="9.3" text-anchor="end" fill="#262626" stroke="#262626" stroke-width="0.15">40</text>
<text x="374.20" y="104.06" font-family="Liberation Sans, Arial, sans-serif" font-size="9.3" text-anchor="end" fill="#262626" stroke="#262626" stroke-width="0.15">60</text>
<text x="374.20" y="78.68" font-family="Liberation Sans, Arial, sans-serif" font-size="9.3" text-anchor="end" fill="#262626" stroke="#262626" stroke-width="0.15">80</text>
<text x="374.20" y="53.30" font-family="Liberation Sans, Arial, sans-serif" font-size="9.3" text-anchor="end" fill="#262626" stroke="#262626" stroke-width="0.15">100</text>
<text x="373.80" y="191.05" font-family="Liberation Sans, Arial, sans-serif" font-size="9.3" text-anchor="end" fill="#262626" stroke="#262626" stroke-width="0.15">1.5</text>
<text x="434.10" y="219.85" font-family="Liberation Sans, Arial, sans-serif" font-size="9.3" text-anchor="middle" fill="#262626" stroke="#262626" stroke-width="0.15">1</text>
<text x="494.00" y="249.35" font-family="Liberation Sans, Arial, sans-serif" font-size="9.3" text-anchor="middle" fill="#262626" stroke="#262626" stroke-width="0.15">0.5</text>
<text x="517.40" y="249.95" font-family="Liberation Sans, Arial, sans-serif" font-size="9.3" text-anchor="middle" fill="#262626" stroke="#262626" stroke-width="0.15">0</text>
<text x="554.20" y="240.95" font-family="Liberation Sans, Arial, sans-serif" font-size="9.3" text-anchor="middle" fill="#262626" stroke="#262626" stroke-width="0.15">0.2</text>
<text x="587.10" y="232.55" font-family="Liberation Sans, Arial, sans-serif" font-size="9.3" text-anchor="middle" fill="#262626" stroke="#262626" stroke-width="0.15">0.4</text>
<text x="620.00" y="223.85" font-family="Liberation Sans, Arial, sans-serif" font-size="9.3" text-anchor="middle" fill="#262626" stroke="#262626" stroke-width="0.15">0.6</text>
<text x="653.00" y="214.85" font-family="Liberation Sans, Arial, sans-serif" font-size="9.3" text-anchor="middle" fill="#262626" stroke="#262626" stroke-width="0.15">0.8</text>
<text x="682.40" y="205.15" font-family="Liberation Sans, Arial, sans-serif" font-size="9.3" text-anchor="middle" fill="#262626" stroke="#262626" stroke-width="0.15">1</text>
<text x="444.20" y="247.00" font-family="Liberation Serif, Times New Roman, serif" font-size="9.3" text-anchor="middle" fill="#262626" stroke="#262626" stroke-width="0.15">Te</text>
<text x="576.40" y="250.40" font-family="Liberation Serif, Times New Roman, serif" font-size="9" text-anchor="start" fill="#262626" stroke="#262626" stroke-width="0.15" textLength="67.4" lengthAdjust="spacing">Angular freqnency</text>
<text transform="translate(354.0,116.4) rotate(-90)" font-family="Liberation Serif, Times New Roman, serif" font-size="9" text-anchor="middle" fill="#262626">Phase</text>
<rect x="272.4" y="1.5" width="56.80000000000001" height="22.8" fill="#fff" stroke="#333" stroke-width="0.8"/>
<line x1="275.00" y1="8.00" x2="302.30" y2="8.00" stroke="#ff2020" stroke-width="1.2"/>
<line x1="275.00" y1="18.30" x2="302.30" y2="18.30" stroke="#202020" stroke-width="1.0"/>
<text x="304.40" y="11.90" font-family="Liberation Sans, Arial, sans-serif" font-size="8.2" text-anchor="start" fill="#262626" stroke="#262626" stroke-width="0.15">Eq.(1)</text>
<text x="304.40" y="22.20" font-family="Liberation Sans, Arial, sans-serif" font-size="8.2" text-anchor="start" fill="#262626" stroke="#262626" stroke-width="0.15">Eq.(6)</text>
<rect x="626.6" y="1.4" width="57.0" height="23.1" fill="#fff" stroke="#555" stroke-width="0.8"/>
<line x1="629.50" y1="7.40" x2="656.20" y2="7.40" stroke="#ff1010" stroke-width="0.9"/>
<line x1="629.50" y1="17.80" x2="656.20" y2="17.80" stroke="#5a5a5a" stroke-width="1.6"/>
<text x="658.70" y="11.30" font-family="Liberation Sans, Arial, sans-serif" font-size="8.2" text-anchor="start" fill="#262626" stroke="#262626" stroke-width="0.15">Eq.(1)</text>
<text x="658.70" y="21.70" font-family="Liberation Sans, Arial, sans-serif" font-size="8.2" text-anchor="start" fill="#262626" stroke="#262626" stroke-width="0.15">Eq.(6)</text>
<text x="45.8" y="281.9" font-family="Liberation Serif, Times New Roman, serif" font-size="16" fill="#222" textLength="260.4" lengthAdjust="spacing">(<tspan font-style="italic">a</tspan>) Amplitude frequency characteristics</text>
<text x="415.9" y="281.9" font-family="Liberation Serif, Times New Roman, serif" font-size="16" fill="#222" textLength="228.2" lengthAdjust="spacing">(<tspan font-style="italic">b</tspan>) Phase frequency characteristics</text>
</svg>
</body></html>
